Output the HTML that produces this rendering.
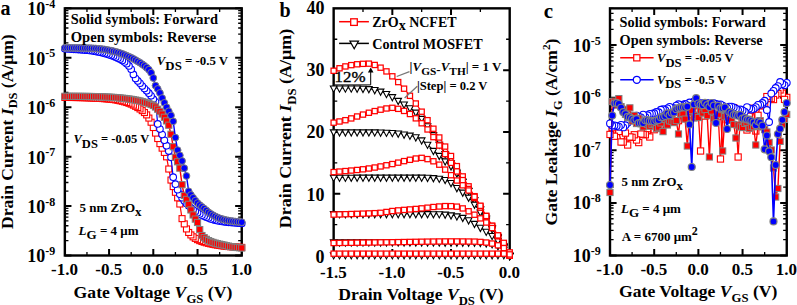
<!DOCTYPE html>
<html><head><meta charset="utf-8"><style>
html,body{margin:0;padding:0;background:#fff;width:797px;height:305px;overflow:hidden;}
svg{display:block;font-family:"Liberation Serif", serif;}
</style></head><body>
<svg width="797" height="305" viewBox="0 0 797 305" font-family='"Liberation Serif", serif'>
<rect width="797" height="305" fill="#fff"/>
<rect x="64.85" y="8.35" width="176.9" height="247.15" fill="none" stroke="#000" stroke-width="2.4"/>
<rect x="333.65" y="8.35" width="176.05" height="247.15" fill="none" stroke="#000" stroke-width="2.4"/>
<rect x="610" y="8.35" width="176.75" height="247.15" fill="none" stroke="#000" stroke-width="2.4"/>
<path d="M109.07 255.5v-6.6M109.07 8.35v6.6M153.3 255.5v-6.6M153.3 8.35v6.6M197.53 255.5v-6.6M197.53 8.35v6.6" stroke="#000" stroke-width="2"/>
<path d="M86.96 255.5v-3.6M86.96 8.35v3.6M131.19 255.5v-3.6M131.19 8.35v3.6M175.41 255.5v-3.6M175.41 8.35v3.6M219.64 255.5v-3.6M219.64 8.35v3.6" stroke="#000" stroke-width="1.3"/>
<path d="M64.85 255.5h6.6M241.75 255.5h-6.6M64.85 206.07h6.6M241.75 206.07h-6.6M64.85 156.64h6.6M241.75 156.64h-6.6M64.85 107.21h6.6M241.75 107.21h-6.6M64.85 57.78h6.6M241.75 57.78h-6.6M64.85 8.35h6.6M241.75 8.35h-6.6" stroke="#000" stroke-width="2"/>
<path d="M64.85 240.62h3.6M241.75 240.62h-3.6M64.85 231.92h3.6M241.75 231.92h-3.6M64.85 225.74h3.6M241.75 225.74h-3.6M64.85 220.95h3.6M241.75 220.95h-3.6M64.85 217.04h3.6M241.75 217.04h-3.6M64.85 213.73h3.6M241.75 213.73h-3.6M64.85 210.86h3.6M241.75 210.86h-3.6M64.85 208.33h3.6M241.75 208.33h-3.6M64.85 191.19h3.6M241.75 191.19h-3.6M64.85 182.49h3.6M241.75 182.49h-3.6M64.85 176.31h3.6M241.75 176.31h-3.6M64.85 171.52h3.6M241.75 171.52h-3.6M64.85 167.61h3.6M241.75 167.61h-3.6M64.85 164.3h3.6M241.75 164.3h-3.6M64.85 161.43h3.6M241.75 161.43h-3.6M64.85 158.9h3.6M241.75 158.9h-3.6M64.85 141.76h3.6M241.75 141.76h-3.6M64.85 133.06h3.6M241.75 133.06h-3.6M64.85 126.88h3.6M241.75 126.88h-3.6M64.85 122.09h3.6M241.75 122.09h-3.6M64.85 118.18h3.6M241.75 118.18h-3.6M64.85 114.87h3.6M241.75 114.87h-3.6M64.85 112h3.6M241.75 112h-3.6M64.85 109.47h3.6M241.75 109.47h-3.6M64.85 92.33h3.6M241.75 92.33h-3.6M64.85 83.63h3.6M241.75 83.63h-3.6M64.85 77.45h3.6M241.75 77.45h-3.6M64.85 72.66h3.6M241.75 72.66h-3.6M64.85 68.75h3.6M241.75 68.75h-3.6M64.85 65.44h3.6M241.75 65.44h-3.6M64.85 62.57h3.6M241.75 62.57h-3.6M64.85 60.04h3.6M241.75 60.04h-3.6M64.85 42.9h3.6M241.75 42.9h-3.6M64.85 34.2h3.6M241.75 34.2h-3.6M64.85 28.02h3.6M241.75 28.02h-3.6M64.85 23.23h3.6M241.75 23.23h-3.6M64.85 19.32h3.6M241.75 19.32h-3.6M64.85 16.01h3.6M241.75 16.01h-3.6M64.85 13.14h3.6M241.75 13.14h-3.6M64.85 10.61h3.6M241.75 10.61h-3.6" stroke="#000" stroke-width="1.3"/>
<path d="M392.33 255.5v-6.6M392.33 8.35v6.6M451.02 255.5v-6.6M451.02 8.35v6.6" stroke="#000" stroke-width="2"/>
<path d="M362.99 255.5v-3.6M362.99 8.35v3.6M421.67 255.5v-3.6M421.67 8.35v3.6M480.36 255.5v-3.6M480.36 8.35v3.6" stroke="#000" stroke-width="1.3"/>
<path d="M333.65 193.71h6.6M509.7 193.71h-6.6M333.65 131.93h6.6M509.7 131.93h-6.6M333.65 70.14h6.6M509.7 70.14h-6.6" stroke="#000" stroke-width="2"/>
<path d="M333.65 224.61h3.6M509.7 224.61h-3.6M333.65 162.82h3.6M509.7 162.82h-3.6M333.65 101.03h3.6M509.7 101.03h-3.6M333.65 39.24h3.6M509.7 39.24h-3.6" stroke="#000" stroke-width="1.3"/>
<path d="M654.19 255.5v-6.6M654.19 8.35v6.6M698.38 255.5v-6.6M698.38 8.35v6.6M742.56 255.5v-6.6M742.56 8.35v6.6" stroke="#000" stroke-width="2"/>
<path d="M632.09 255.5v-3.6M632.09 8.35v3.6M676.28 255.5v-3.6M676.28 8.35v3.6M720.47 255.5v-3.6M720.47 8.35v3.6M764.66 255.5v-3.6M764.66 8.35v3.6" stroke="#000" stroke-width="1.3"/>
<path d="M610 255.5h6.6M786.75 255.5h-6.6M610 202.9h6.6M786.75 202.9h-6.6M610 150.31h6.6M786.75 150.31h-6.6M610 97.71h6.6M786.75 97.71h-6.6M610 45.11h6.6M786.75 45.11h-6.6" stroke="#000" stroke-width="2"/>
<path d="M610 239.67h3.6M786.75 239.67h-3.6M610 230.41h3.6M786.75 230.41h-3.6M610 223.83h3.6M786.75 223.83h-3.6M610 218.74h3.6M786.75 218.74h-3.6M610 214.57h3.6M786.75 214.57h-3.6M610 211.05h3.6M786.75 211.05h-3.6M610 208h3.6M786.75 208h-3.6M610 205.31h3.6M786.75 205.31h-3.6M610 187.07h3.6M786.75 187.07h-3.6M610 177.81h3.6M786.75 177.81h-3.6M610 171.24h3.6M786.75 171.24h-3.6M610 166.14h3.6M786.75 166.14h-3.6M610 161.98h3.6M786.75 161.98h-3.6M610 158.45h3.6M786.75 158.45h-3.6M610 155.4h3.6M786.75 155.4h-3.6M610 152.71h3.6M786.75 152.71h-3.6M610 134.47h3.6M786.75 134.47h-3.6M610 125.21h3.6M786.75 125.21h-3.6M610 118.64h3.6M786.75 118.64h-3.6M610 113.54h3.6M786.75 113.54h-3.6M610 109.38h3.6M786.75 109.38h-3.6M610 105.86h3.6M786.75 105.86h-3.6M610 102.81h3.6M786.75 102.81h-3.6M610 100.12h3.6M786.75 100.12h-3.6M610 81.88h3.6M786.75 81.88h-3.6M610 72.62h3.6M786.75 72.62h-3.6M610 66.04h3.6M786.75 66.04h-3.6M610 60.95h3.6M786.75 60.95h-3.6M610 56.78h3.6M786.75 56.78h-3.6M610 53.26h3.6M786.75 53.26h-3.6M610 50.21h3.6M786.75 50.21h-3.6M610 47.52h3.6M786.75 47.52h-3.6M610 29.28h3.6M786.75 29.28h-3.6M610 20.02h3.6M786.75 20.02h-3.6M610 13.45h3.6M786.75 13.45h-3.6M610 8.35h3.6M786.75 8.35h-3.6" stroke="#000" stroke-width="1.3"/>
<g>
<polyline points="64.85,97.4 67.06,97.43 69.27,97.45 71.48,97.48 73.69,97.5 75.91,97.53 78.12,97.56 80.33,97.6 82.54,97.65 84.75,97.71 86.96,97.78 89.17,97.87 91.38,97.96 93.6,98.06 95.81,98.17 98.02,98.29 100.23,98.41 102.44,98.55 104.65,98.7 106.86,98.87 109.07,99.06 111.29,99.28 113.5,99.54 115.71,99.87 117.92,100.29 120.13,100.77 122.34,101.28 124.55,101.86 126.76,102.52 128.98,103.27 131.19,104.13 133.4,105.14 135.61,106.29 137.82,107.56 140.03,108.99 142.24,110.63 144.45,112.54 146.67,114.89 148.88,118.07 151.09,122.21 153.3,127.52 155.51,133.07 157.72,138.53 159.93,143.61 162.14,148.15 164.36,152.42 166.57,156.84 168.78,169.02 170.99,180.05 173.2,186.56 175.41,192.28 177.62,197.8 179.84,204 182.05,218.63 184.26,223.9 186.47,228.93 188.68,232.48 190.89,234.93 193.1,236.84 195.31,238.37 197.53,239.63 199.74,240.65 201.95,241.48 204.16,242.18 206.37,242.79 208.58,243.34 210.79,243.86 213,244.33 215.22,244.76 217.43,245.14 219.64,245.48 221.85,245.8 224.06,246.08 226.27,246.33 228.48,246.54 230.69,246.72 232.91,246.87 235.12,247 237.33,247.13 239.54,247.26 241.75,247.4" fill="none" stroke="#ff0000" stroke-width="1.2" stroke-linejoin="round"/>
<rect x="238.75" y="244.4" width="6" height="6" fill="#fff" stroke="#ff0000" stroke-width="1.1"/>
<rect x="236.54" y="244.26" width="6" height="6" fill="#fff" stroke="#ff0000" stroke-width="1.1"/>
<rect x="234.33" y="244.13" width="6" height="6" fill="#fff" stroke="#ff0000" stroke-width="1.1"/>
<rect x="232.12" y="244" width="6" height="6" fill="#fff" stroke="#ff0000" stroke-width="1.1"/>
<rect x="229.91" y="243.87" width="6" height="6" fill="#fff" stroke="#ff0000" stroke-width="1.1"/>
<rect x="227.69" y="243.72" width="6" height="6" fill="#fff" stroke="#ff0000" stroke-width="1.1"/>
<rect x="225.48" y="243.54" width="6" height="6" fill="#fff" stroke="#ff0000" stroke-width="1.1"/>
<rect x="223.27" y="243.33" width="6" height="6" fill="#fff" stroke="#ff0000" stroke-width="1.1"/>
<rect x="221.06" y="243.08" width="6" height="6" fill="#fff" stroke="#ff0000" stroke-width="1.1"/>
<rect x="218.85" y="242.8" width="6" height="6" fill="#fff" stroke="#ff0000" stroke-width="1.1"/>
<rect x="216.64" y="242.48" width="6" height="6" fill="#fff" stroke="#ff0000" stroke-width="1.1"/>
<rect x="214.43" y="242.14" width="6" height="6" fill="#fff" stroke="#ff0000" stroke-width="1.1"/>
<rect x="212.22" y="241.76" width="6" height="6" fill="#fff" stroke="#ff0000" stroke-width="1.1"/>
<rect x="210" y="241.33" width="6" height="6" fill="#fff" stroke="#ff0000" stroke-width="1.1"/>
<rect x="207.79" y="240.86" width="6" height="6" fill="#fff" stroke="#ff0000" stroke-width="1.1"/>
<rect x="205.58" y="240.34" width="6" height="6" fill="#fff" stroke="#ff0000" stroke-width="1.1"/>
<rect x="203.37" y="239.79" width="6" height="6" fill="#fff" stroke="#ff0000" stroke-width="1.1"/>
<rect x="201.16" y="239.18" width="6" height="6" fill="#fff" stroke="#ff0000" stroke-width="1.1"/>
<rect x="198.95" y="238.48" width="6" height="6" fill="#fff" stroke="#ff0000" stroke-width="1.1"/>
<rect x="196.74" y="237.65" width="6" height="6" fill="#fff" stroke="#ff0000" stroke-width="1.1"/>
<rect x="194.53" y="236.63" width="6" height="6" fill="#fff" stroke="#ff0000" stroke-width="1.1"/>
<rect x="192.31" y="235.37" width="6" height="6" fill="#fff" stroke="#ff0000" stroke-width="1.1"/>
<rect x="190.1" y="233.84" width="6" height="6" fill="#fff" stroke="#ff0000" stroke-width="1.1"/>
<rect x="187.89" y="231.93" width="6" height="6" fill="#fff" stroke="#ff0000" stroke-width="1.1"/>
<rect x="185.68" y="229.48" width="6" height="6" fill="#fff" stroke="#ff0000" stroke-width="1.1"/>
<rect x="183.47" y="225.93" width="6" height="6" fill="#fff" stroke="#ff0000" stroke-width="1.1"/>
<rect x="181.26" y="220.9" width="6" height="6" fill="#fff" stroke="#ff0000" stroke-width="1.1"/>
<rect x="179.05" y="215.63" width="6" height="6" fill="#fff" stroke="#ff0000" stroke-width="1.1"/>
<rect x="176.84" y="201" width="6" height="6" fill="#fff" stroke="#ff0000" stroke-width="1.1"/>
<rect x="174.62" y="194.8" width="6" height="6" fill="#fff" stroke="#ff0000" stroke-width="1.1"/>
<rect x="172.41" y="189.28" width="6" height="6" fill="#fff" stroke="#ff0000" stroke-width="1.1"/>
<rect x="170.2" y="183.56" width="6" height="6" fill="#fff" stroke="#ff0000" stroke-width="1.1"/>
<rect x="167.99" y="177.05" width="6" height="6" fill="#fff" stroke="#ff0000" stroke-width="1.1"/>
<rect x="165.78" y="166.02" width="6" height="6" fill="#fff" stroke="#ff0000" stroke-width="1.1"/>
<rect x="163.57" y="153.84" width="6" height="6" fill="#fff" stroke="#ff0000" stroke-width="1.1"/>
<rect x="161.36" y="149.42" width="6" height="6" fill="#fff" stroke="#ff0000" stroke-width="1.1"/>
<rect x="159.14" y="145.15" width="6" height="6" fill="#fff" stroke="#ff0000" stroke-width="1.1"/>
<rect x="156.93" y="140.61" width="6" height="6" fill="#fff" stroke="#ff0000" stroke-width="1.1"/>
<rect x="154.72" y="135.53" width="6" height="6" fill="#fff" stroke="#ff0000" stroke-width="1.1"/>
<rect x="152.51" y="130.07" width="6" height="6" fill="#fff" stroke="#ff0000" stroke-width="1.1"/>
<rect x="150.3" y="124.52" width="6" height="6" fill="#fff" stroke="#ff0000" stroke-width="1.1"/>
<rect x="148.09" y="119.21" width="6" height="6" fill="#fff" stroke="#ff0000" stroke-width="1.1"/>
<rect x="145.88" y="115.07" width="6" height="6" fill="#fff" stroke="#ff0000" stroke-width="1.1"/>
<rect x="143.67" y="111.89" width="6" height="6" fill="#fff" stroke="#ff0000" stroke-width="1.1"/>
<rect x="141.45" y="109.54" width="6" height="6" fill="#fff" stroke="#ff0000" stroke-width="1.1"/>
<rect x="139.24" y="107.63" width="6" height="6" fill="#fff" stroke="#ff0000" stroke-width="1.1"/>
<rect x="137.03" y="105.99" width="6" height="6" fill="#fff" stroke="#ff0000" stroke-width="1.1"/>
<rect x="134.82" y="104.56" width="6" height="6" fill="#fff" stroke="#ff0000" stroke-width="1.1"/>
<rect x="132.61" y="103.29" width="6" height="6" fill="#fff" stroke="#ff0000" stroke-width="1.1"/>
<rect x="130.4" y="102.14" width="6" height="6" fill="#fff" stroke="#ff0000" stroke-width="1.1"/>
<rect x="128.19" y="101.13" width="6" height="6" fill="#fff" stroke="#ff0000" stroke-width="1.1"/>
<rect x="125.98" y="100.27" width="6" height="6" fill="#fff" stroke="#ff0000" stroke-width="1.1"/>
<rect x="123.76" y="99.52" width="6" height="6" fill="#fff" stroke="#ff0000" stroke-width="1.1"/>
<rect x="121.55" y="98.86" width="6" height="6" fill="#fff" stroke="#ff0000" stroke-width="1.1"/>
<rect x="119.34" y="98.28" width="6" height="6" fill="#fff" stroke="#ff0000" stroke-width="1.1"/>
<rect x="117.13" y="97.77" width="6" height="6" fill="#fff" stroke="#ff0000" stroke-width="1.1"/>
<rect x="114.92" y="97.29" width="6" height="6" fill="#fff" stroke="#ff0000" stroke-width="1.1"/>
<rect x="112.71" y="96.87" width="6" height="6" fill="#fff" stroke="#ff0000" stroke-width="1.1"/>
<rect x="110.5" y="96.54" width="6" height="6" fill="#fff" stroke="#ff0000" stroke-width="1.1"/>
<rect x="108.29" y="96.28" width="6" height="6" fill="#fff" stroke="#ff0000" stroke-width="1.1"/>
<rect x="106.07" y="96.06" width="6" height="6" fill="#fff" stroke="#ff0000" stroke-width="1.1"/>
<rect x="103.86" y="95.87" width="6" height="6" fill="#fff" stroke="#ff0000" stroke-width="1.1"/>
<rect x="101.65" y="95.7" width="6" height="6" fill="#fff" stroke="#ff0000" stroke-width="1.1"/>
<rect x="99.44" y="95.55" width="6" height="6" fill="#fff" stroke="#ff0000" stroke-width="1.1"/>
<rect x="97.23" y="95.41" width="6" height="6" fill="#fff" stroke="#ff0000" stroke-width="1.1"/>
<rect x="95.02" y="95.29" width="6" height="6" fill="#fff" stroke="#ff0000" stroke-width="1.1"/>
<rect x="92.81" y="95.17" width="6" height="6" fill="#fff" stroke="#ff0000" stroke-width="1.1"/>
<rect x="90.6" y="95.06" width="6" height="6" fill="#fff" stroke="#ff0000" stroke-width="1.1"/>
<rect x="88.38" y="94.96" width="6" height="6" fill="#fff" stroke="#ff0000" stroke-width="1.1"/>
<rect x="86.17" y="94.87" width="6" height="6" fill="#fff" stroke="#ff0000" stroke-width="1.1"/>
<rect x="83.96" y="94.78" width="6" height="6" fill="#fff" stroke="#ff0000" stroke-width="1.1"/>
<rect x="81.75" y="94.71" width="6" height="6" fill="#fff" stroke="#ff0000" stroke-width="1.1"/>
<rect x="79.54" y="94.65" width="6" height="6" fill="#fff" stroke="#ff0000" stroke-width="1.1"/>
<rect x="77.33" y="94.6" width="6" height="6" fill="#fff" stroke="#ff0000" stroke-width="1.1"/>
<rect x="75.12" y="94.56" width="6" height="6" fill="#fff" stroke="#ff0000" stroke-width="1.1"/>
<rect x="72.91" y="94.53" width="6" height="6" fill="#fff" stroke="#ff0000" stroke-width="1.1"/>
<rect x="70.69" y="94.5" width="6" height="6" fill="#fff" stroke="#ff0000" stroke-width="1.1"/>
<rect x="68.48" y="94.48" width="6" height="6" fill="#fff" stroke="#ff0000" stroke-width="1.1"/>
<rect x="66.27" y="94.45" width="6" height="6" fill="#fff" stroke="#ff0000" stroke-width="1.1"/>
<rect x="64.06" y="94.43" width="6" height="6" fill="#fff" stroke="#ff0000" stroke-width="1.1"/>
<rect x="61.85" y="94.4" width="6" height="6" fill="#fff" stroke="#ff0000" stroke-width="1.1"/>
<polyline points="64.85,48.7 67.06,48.86 69.27,49.01 71.48,49.15 73.69,49.29 75.91,49.43 78.12,49.57 80.33,49.73 82.54,49.89 84.75,50.07 86.96,50.27 89.17,50.49 91.38,50.74 93.6,51.07 95.81,51.46 98.02,51.89 100.23,52.35 102.44,52.85 104.65,53.41 106.86,54.03 109.07,54.7 111.29,55.44 113.5,56.26 115.71,57.17 117.92,58.18 120.13,59.27 122.34,60.48 124.55,61.9 126.76,63.65 128.98,65.94 131.19,69.26 133.4,74.4 135.61,78.59 137.82,80.92 140.03,83.27 142.24,86.06 144.45,88.55 146.67,90.78 148.88,93.17 151.09,95.79 153.3,99.13 155.51,101.84 157.72,123.91 159.93,129.12 162.14,134.58 164.36,140.23 166.57,145.67 168.78,151.07 170.99,157.28 173.2,177.22 175.41,184.19 177.62,189.77 179.84,194.2 182.05,197.68 184.26,200.67 186.47,203.4 188.68,205.79 190.89,207.93 193.1,209.82 195.31,211.41 197.53,212.77 199.74,214 201.95,215.17 204.16,216.27 206.37,217.25 208.58,218.11 210.79,218.9 213,219.6 215.22,220.17 217.43,220.66 219.64,221.08 221.85,221.46 224.06,221.78 226.27,222.05 228.48,222.28 230.69,222.49 232.91,222.68 235.12,222.86 237.33,223.03 239.54,223.21 241.75,223.4" fill="none" stroke="#0000ff" stroke-width="1.2" stroke-linejoin="round"/>
<circle cx="241.75" cy="223.4" r="3.3" fill="#fff" stroke="#0000ff" stroke-width="1.1"/>
<circle cx="239.54" cy="223.21" r="3.3" fill="#fff" stroke="#0000ff" stroke-width="1.1"/>
<circle cx="237.33" cy="223.03" r="3.3" fill="#fff" stroke="#0000ff" stroke-width="1.1"/>
<circle cx="235.12" cy="222.86" r="3.3" fill="#fff" stroke="#0000ff" stroke-width="1.1"/>
<circle cx="232.91" cy="222.68" r="3.3" fill="#fff" stroke="#0000ff" stroke-width="1.1"/>
<circle cx="230.69" cy="222.49" r="3.3" fill="#fff" stroke="#0000ff" stroke-width="1.1"/>
<circle cx="228.48" cy="222.28" r="3.3" fill="#fff" stroke="#0000ff" stroke-width="1.1"/>
<circle cx="226.27" cy="222.05" r="3.3" fill="#fff" stroke="#0000ff" stroke-width="1.1"/>
<circle cx="224.06" cy="221.78" r="3.3" fill="#fff" stroke="#0000ff" stroke-width="1.1"/>
<circle cx="221.85" cy="221.46" r="3.3" fill="#fff" stroke="#0000ff" stroke-width="1.1"/>
<circle cx="219.64" cy="221.08" r="3.3" fill="#fff" stroke="#0000ff" stroke-width="1.1"/>
<circle cx="217.43" cy="220.66" r="3.3" fill="#fff" stroke="#0000ff" stroke-width="1.1"/>
<circle cx="215.22" cy="220.17" r="3.3" fill="#fff" stroke="#0000ff" stroke-width="1.1"/>
<circle cx="213" cy="219.6" r="3.3" fill="#fff" stroke="#0000ff" stroke-width="1.1"/>
<circle cx="210.79" cy="218.9" r="3.3" fill="#fff" stroke="#0000ff" stroke-width="1.1"/>
<circle cx="208.58" cy="218.11" r="3.3" fill="#fff" stroke="#0000ff" stroke-width="1.1"/>
<circle cx="206.37" cy="217.25" r="3.3" fill="#fff" stroke="#0000ff" stroke-width="1.1"/>
<circle cx="204.16" cy="216.27" r="3.3" fill="#fff" stroke="#0000ff" stroke-width="1.1"/>
<circle cx="201.95" cy="215.17" r="3.3" fill="#fff" stroke="#0000ff" stroke-width="1.1"/>
<circle cx="199.74" cy="214" r="3.3" fill="#fff" stroke="#0000ff" stroke-width="1.1"/>
<circle cx="197.53" cy="212.77" r="3.3" fill="#fff" stroke="#0000ff" stroke-width="1.1"/>
<circle cx="195.31" cy="211.41" r="3.3" fill="#fff" stroke="#0000ff" stroke-width="1.1"/>
<circle cx="193.1" cy="209.82" r="3.3" fill="#fff" stroke="#0000ff" stroke-width="1.1"/>
<circle cx="190.89" cy="207.93" r="3.3" fill="#fff" stroke="#0000ff" stroke-width="1.1"/>
<circle cx="188.68" cy="205.79" r="3.3" fill="#fff" stroke="#0000ff" stroke-width="1.1"/>
<circle cx="186.47" cy="203.4" r="3.3" fill="#fff" stroke="#0000ff" stroke-width="1.1"/>
<circle cx="184.26" cy="200.67" r="3.3" fill="#fff" stroke="#0000ff" stroke-width="1.1"/>
<circle cx="182.05" cy="197.68" r="3.3" fill="#fff" stroke="#0000ff" stroke-width="1.1"/>
<circle cx="179.84" cy="194.2" r="3.3" fill="#fff" stroke="#0000ff" stroke-width="1.1"/>
<circle cx="177.62" cy="189.77" r="3.3" fill="#fff" stroke="#0000ff" stroke-width="1.1"/>
<circle cx="175.41" cy="184.19" r="3.3" fill="#fff" stroke="#0000ff" stroke-width="1.1"/>
<circle cx="173.2" cy="177.22" r="3.3" fill="#fff" stroke="#0000ff" stroke-width="1.1"/>
<circle cx="170.99" cy="157.28" r="3.3" fill="#fff" stroke="#0000ff" stroke-width="1.1"/>
<circle cx="168.78" cy="151.07" r="3.3" fill="#fff" stroke="#0000ff" stroke-width="1.1"/>
<circle cx="166.57" cy="145.67" r="3.3" fill="#fff" stroke="#0000ff" stroke-width="1.1"/>
<circle cx="164.36" cy="140.23" r="3.3" fill="#fff" stroke="#0000ff" stroke-width="1.1"/>
<circle cx="162.14" cy="134.58" r="3.3" fill="#fff" stroke="#0000ff" stroke-width="1.1"/>
<circle cx="159.93" cy="129.12" r="3.3" fill="#fff" stroke="#0000ff" stroke-width="1.1"/>
<circle cx="157.72" cy="123.91" r="3.3" fill="#fff" stroke="#0000ff" stroke-width="1.1"/>
<circle cx="155.51" cy="101.84" r="3.3" fill="#fff" stroke="#0000ff" stroke-width="1.1"/>
<circle cx="153.3" cy="99.13" r="3.3" fill="#fff" stroke="#0000ff" stroke-width="1.1"/>
<circle cx="151.09" cy="95.79" r="3.3" fill="#fff" stroke="#0000ff" stroke-width="1.1"/>
<circle cx="148.88" cy="93.17" r="3.3" fill="#fff" stroke="#0000ff" stroke-width="1.1"/>
<circle cx="146.67" cy="90.78" r="3.3" fill="#fff" stroke="#0000ff" stroke-width="1.1"/>
<circle cx="144.45" cy="88.55" r="3.3" fill="#fff" stroke="#0000ff" stroke-width="1.1"/>
<circle cx="142.24" cy="86.06" r="3.3" fill="#fff" stroke="#0000ff" stroke-width="1.1"/>
<circle cx="140.03" cy="83.27" r="3.3" fill="#fff" stroke="#0000ff" stroke-width="1.1"/>
<circle cx="137.82" cy="80.92" r="3.3" fill="#fff" stroke="#0000ff" stroke-width="1.1"/>
<circle cx="135.61" cy="78.59" r="3.3" fill="#fff" stroke="#0000ff" stroke-width="1.1"/>
<circle cx="133.4" cy="74.4" r="3.3" fill="#fff" stroke="#0000ff" stroke-width="1.1"/>
<circle cx="131.19" cy="69.26" r="3.3" fill="#fff" stroke="#0000ff" stroke-width="1.1"/>
<circle cx="128.98" cy="65.94" r="3.3" fill="#fff" stroke="#0000ff" stroke-width="1.1"/>
<circle cx="126.76" cy="63.65" r="3.3" fill="#fff" stroke="#0000ff" stroke-width="1.1"/>
<circle cx="124.55" cy="61.9" r="3.3" fill="#fff" stroke="#0000ff" stroke-width="1.1"/>
<circle cx="122.34" cy="60.48" r="3.3" fill="#fff" stroke="#0000ff" stroke-width="1.1"/>
<circle cx="120.13" cy="59.27" r="3.3" fill="#fff" stroke="#0000ff" stroke-width="1.1"/>
<circle cx="117.92" cy="58.18" r="3.3" fill="#fff" stroke="#0000ff" stroke-width="1.1"/>
<circle cx="115.71" cy="57.17" r="3.3" fill="#fff" stroke="#0000ff" stroke-width="1.1"/>
<circle cx="113.5" cy="56.26" r="3.3" fill="#fff" stroke="#0000ff" stroke-width="1.1"/>
<circle cx="111.29" cy="55.44" r="3.3" fill="#fff" stroke="#0000ff" stroke-width="1.1"/>
<circle cx="109.07" cy="54.7" r="3.3" fill="#fff" stroke="#0000ff" stroke-width="1.1"/>
<circle cx="106.86" cy="54.03" r="3.3" fill="#fff" stroke="#0000ff" stroke-width="1.1"/>
<circle cx="104.65" cy="53.41" r="3.3" fill="#fff" stroke="#0000ff" stroke-width="1.1"/>
<circle cx="102.44" cy="52.85" r="3.3" fill="#fff" stroke="#0000ff" stroke-width="1.1"/>
<circle cx="100.23" cy="52.35" r="3.3" fill="#fff" stroke="#0000ff" stroke-width="1.1"/>
<circle cx="98.02" cy="51.89" r="3.3" fill="#fff" stroke="#0000ff" stroke-width="1.1"/>
<circle cx="95.81" cy="51.46" r="3.3" fill="#fff" stroke="#0000ff" stroke-width="1.1"/>
<circle cx="93.6" cy="51.07" r="3.3" fill="#fff" stroke="#0000ff" stroke-width="1.1"/>
<circle cx="91.38" cy="50.74" r="3.3" fill="#fff" stroke="#0000ff" stroke-width="1.1"/>
<circle cx="89.17" cy="50.49" r="3.3" fill="#fff" stroke="#0000ff" stroke-width="1.1"/>
<circle cx="86.96" cy="50.27" r="3.3" fill="#fff" stroke="#0000ff" stroke-width="1.1"/>
<circle cx="84.75" cy="50.07" r="3.3" fill="#fff" stroke="#0000ff" stroke-width="1.1"/>
<circle cx="82.54" cy="49.89" r="3.3" fill="#fff" stroke="#0000ff" stroke-width="1.1"/>
<circle cx="80.33" cy="49.73" r="3.3" fill="#fff" stroke="#0000ff" stroke-width="1.1"/>
<circle cx="78.12" cy="49.57" r="3.3" fill="#fff" stroke="#0000ff" stroke-width="1.1"/>
<circle cx="75.91" cy="49.43" r="3.3" fill="#fff" stroke="#0000ff" stroke-width="1.1"/>
<circle cx="73.69" cy="49.29" r="3.3" fill="#fff" stroke="#0000ff" stroke-width="1.1"/>
<circle cx="71.48" cy="49.15" r="3.3" fill="#fff" stroke="#0000ff" stroke-width="1.1"/>
<circle cx="69.27" cy="49.01" r="3.3" fill="#fff" stroke="#0000ff" stroke-width="1.1"/>
<circle cx="67.06" cy="48.86" r="3.3" fill="#fff" stroke="#0000ff" stroke-width="1.1"/>
<circle cx="64.85" cy="48.7" r="3.3" fill="#fff" stroke="#0000ff" stroke-width="1.1"/>
<polyline points="64.85,96.3 67.06,96.32 69.27,96.33 71.48,96.35 73.69,96.36 75.91,96.37 78.12,96.39 80.33,96.4 82.54,96.42 84.75,96.44 86.96,96.46 89.17,96.49 91.38,96.52 93.6,96.57 95.81,96.62 98.02,96.69 100.23,96.77 102.44,96.86 104.65,96.95 106.86,97.06 109.07,97.17 111.29,97.29 113.5,97.42 115.71,97.57 117.92,97.75 120.13,97.96 122.34,98.2 124.55,98.45 126.76,98.71 128.98,99.01 131.19,99.33 133.4,99.69 135.61,100.08 137.82,100.5 140.03,100.99 142.24,101.56 144.45,102.19 146.67,102.89 148.88,103.63 151.09,104.46 153.3,105.49 155.51,107 157.72,109.22 159.93,111.46 162.14,114.04 164.36,117.3 166.57,120.89 168.78,125.21 170.99,134.29 173.2,146.72 175.41,157.25 177.62,161.76 179.84,168.14 182.05,184.71 184.26,195.49 186.47,199.41 188.68,204.32 190.89,209.95 193.1,214.96 195.31,219.11 197.53,222.47 199.74,229.6 201.95,235.54 204.16,237.64 206.37,239.31 208.58,240.6 210.79,241.58 213,242.4 215.22,243.08 217.43,243.67 219.64,244.16 221.85,244.61 224.06,245.08 226.27,245.59 228.48,246.11 230.69,246.57 232.91,246.94 235.12,247.23 237.33,247.49 239.54,247.74 241.75,248" fill="none" stroke="#ff0000" stroke-width="1.4" stroke-linejoin="round"/>
<rect x="61.75" y="93.2" width="6.2" height="6.2" fill="#ff0000" stroke="#808080" stroke-width="1"/>
<rect x="63.96" y="93.22" width="6.2" height="6.2" fill="#ff0000" stroke="#808080" stroke-width="1"/>
<rect x="66.17" y="93.23" width="6.2" height="6.2" fill="#ff0000" stroke="#808080" stroke-width="1"/>
<rect x="68.38" y="93.25" width="6.2" height="6.2" fill="#ff0000" stroke="#808080" stroke-width="1"/>
<rect x="70.59" y="93.26" width="6.2" height="6.2" fill="#ff0000" stroke="#808080" stroke-width="1"/>
<rect x="72.81" y="93.27" width="6.2" height="6.2" fill="#ff0000" stroke="#808080" stroke-width="1"/>
<rect x="75.02" y="93.29" width="6.2" height="6.2" fill="#ff0000" stroke="#808080" stroke-width="1"/>
<rect x="77.23" y="93.3" width="6.2" height="6.2" fill="#ff0000" stroke="#808080" stroke-width="1"/>
<rect x="79.44" y="93.32" width="6.2" height="6.2" fill="#ff0000" stroke="#808080" stroke-width="1"/>
<rect x="81.65" y="93.34" width="6.2" height="6.2" fill="#ff0000" stroke="#808080" stroke-width="1"/>
<rect x="83.86" y="93.36" width="6.2" height="6.2" fill="#ff0000" stroke="#808080" stroke-width="1"/>
<rect x="86.07" y="93.39" width="6.2" height="6.2" fill="#ff0000" stroke="#808080" stroke-width="1"/>
<rect x="88.28" y="93.42" width="6.2" height="6.2" fill="#ff0000" stroke="#808080" stroke-width="1"/>
<rect x="90.5" y="93.47" width="6.2" height="6.2" fill="#ff0000" stroke="#808080" stroke-width="1"/>
<rect x="92.71" y="93.52" width="6.2" height="6.2" fill="#ff0000" stroke="#808080" stroke-width="1"/>
<rect x="94.92" y="93.59" width="6.2" height="6.2" fill="#ff0000" stroke="#808080" stroke-width="1"/>
<rect x="97.13" y="93.67" width="6.2" height="6.2" fill="#ff0000" stroke="#808080" stroke-width="1"/>
<rect x="99.34" y="93.76" width="6.2" height="6.2" fill="#ff0000" stroke="#808080" stroke-width="1"/>
<rect x="101.55" y="93.85" width="6.2" height="6.2" fill="#ff0000" stroke="#808080" stroke-width="1"/>
<rect x="103.76" y="93.96" width="6.2" height="6.2" fill="#ff0000" stroke="#808080" stroke-width="1"/>
<rect x="105.97" y="94.07" width="6.2" height="6.2" fill="#ff0000" stroke="#808080" stroke-width="1"/>
<rect x="108.19" y="94.19" width="6.2" height="6.2" fill="#ff0000" stroke="#808080" stroke-width="1"/>
<rect x="110.4" y="94.32" width="6.2" height="6.2" fill="#ff0000" stroke="#808080" stroke-width="1"/>
<rect x="112.61" y="94.47" width="6.2" height="6.2" fill="#ff0000" stroke="#808080" stroke-width="1"/>
<rect x="114.82" y="94.65" width="6.2" height="6.2" fill="#ff0000" stroke="#808080" stroke-width="1"/>
<rect x="117.03" y="94.86" width="6.2" height="6.2" fill="#ff0000" stroke="#808080" stroke-width="1"/>
<rect x="119.24" y="95.1" width="6.2" height="6.2" fill="#ff0000" stroke="#808080" stroke-width="1"/>
<rect x="121.45" y="95.35" width="6.2" height="6.2" fill="#ff0000" stroke="#808080" stroke-width="1"/>
<rect x="123.66" y="95.61" width="6.2" height="6.2" fill="#ff0000" stroke="#808080" stroke-width="1"/>
<rect x="125.88" y="95.91" width="6.2" height="6.2" fill="#ff0000" stroke="#808080" stroke-width="1"/>
<rect x="128.09" y="96.23" width="6.2" height="6.2" fill="#ff0000" stroke="#808080" stroke-width="1"/>
<rect x="130.3" y="96.59" width="6.2" height="6.2" fill="#ff0000" stroke="#808080" stroke-width="1"/>
<rect x="132.51" y="96.98" width="6.2" height="6.2" fill="#ff0000" stroke="#808080" stroke-width="1"/>
<rect x="134.72" y="97.4" width="6.2" height="6.2" fill="#ff0000" stroke="#808080" stroke-width="1"/>
<rect x="136.93" y="97.89" width="6.2" height="6.2" fill="#ff0000" stroke="#808080" stroke-width="1"/>
<rect x="139.14" y="98.46" width="6.2" height="6.2" fill="#ff0000" stroke="#808080" stroke-width="1"/>
<rect x="141.35" y="99.09" width="6.2" height="6.2" fill="#ff0000" stroke="#808080" stroke-width="1"/>
<rect x="143.57" y="99.79" width="6.2" height="6.2" fill="#ff0000" stroke="#808080" stroke-width="1"/>
<rect x="145.78" y="100.53" width="6.2" height="6.2" fill="#ff0000" stroke="#808080" stroke-width="1"/>
<rect x="147.99" y="101.36" width="6.2" height="6.2" fill="#ff0000" stroke="#808080" stroke-width="1"/>
<rect x="150.2" y="102.39" width="6.2" height="6.2" fill="#ff0000" stroke="#808080" stroke-width="1"/>
<rect x="152.41" y="103.9" width="6.2" height="6.2" fill="#ff0000" stroke="#808080" stroke-width="1"/>
<rect x="154.62" y="106.12" width="6.2" height="6.2" fill="#ff0000" stroke="#808080" stroke-width="1"/>
<rect x="156.83" y="108.36" width="6.2" height="6.2" fill="#ff0000" stroke="#808080" stroke-width="1"/>
<rect x="159.04" y="110.94" width="6.2" height="6.2" fill="#ff0000" stroke="#808080" stroke-width="1"/>
<rect x="161.26" y="114.2" width="6.2" height="6.2" fill="#ff0000" stroke="#808080" stroke-width="1"/>
<rect x="163.47" y="117.79" width="6.2" height="6.2" fill="#ff0000" stroke="#808080" stroke-width="1"/>
<rect x="165.68" y="122.11" width="6.2" height="6.2" fill="#ff0000" stroke="#808080" stroke-width="1"/>
<rect x="167.89" y="131.19" width="6.2" height="6.2" fill="#ff0000" stroke="#808080" stroke-width="1"/>
<rect x="170.1" y="143.62" width="6.2" height="6.2" fill="#ff0000" stroke="#808080" stroke-width="1"/>
<rect x="172.31" y="154.15" width="6.2" height="6.2" fill="#ff0000" stroke="#808080" stroke-width="1"/>
<rect x="174.52" y="158.66" width="6.2" height="6.2" fill="#ff0000" stroke="#808080" stroke-width="1"/>
<rect x="176.74" y="165.04" width="6.2" height="6.2" fill="#ff0000" stroke="#808080" stroke-width="1"/>
<rect x="178.95" y="181.61" width="6.2" height="6.2" fill="#ff0000" stroke="#808080" stroke-width="1"/>
<rect x="181.16" y="192.39" width="6.2" height="6.2" fill="#ff0000" stroke="#808080" stroke-width="1"/>
<rect x="183.37" y="196.31" width="6.2" height="6.2" fill="#ff0000" stroke="#808080" stroke-width="1"/>
<rect x="185.58" y="201.22" width="6.2" height="6.2" fill="#ff0000" stroke="#808080" stroke-width="1"/>
<rect x="187.79" y="206.85" width="6.2" height="6.2" fill="#ff0000" stroke="#808080" stroke-width="1"/>
<rect x="190" y="211.86" width="6.2" height="6.2" fill="#ff0000" stroke="#808080" stroke-width="1"/>
<rect x="192.21" y="216.01" width="6.2" height="6.2" fill="#ff0000" stroke="#808080" stroke-width="1"/>
<rect x="194.43" y="219.37" width="6.2" height="6.2" fill="#ff0000" stroke="#808080" stroke-width="1"/>
<rect x="196.64" y="226.5" width="6.2" height="6.2" fill="#ff0000" stroke="#808080" stroke-width="1"/>
<rect x="198.85" y="232.44" width="6.2" height="6.2" fill="#ff0000" stroke="#808080" stroke-width="1"/>
<rect x="201.06" y="234.54" width="6.2" height="6.2" fill="#ff0000" stroke="#808080" stroke-width="1"/>
<rect x="203.27" y="236.21" width="6.2" height="6.2" fill="#ff0000" stroke="#808080" stroke-width="1"/>
<rect x="205.48" y="237.5" width="6.2" height="6.2" fill="#ff0000" stroke="#808080" stroke-width="1"/>
<rect x="207.69" y="238.48" width="6.2" height="6.2" fill="#ff0000" stroke="#808080" stroke-width="1"/>
<rect x="209.9" y="239.3" width="6.2" height="6.2" fill="#ff0000" stroke="#808080" stroke-width="1"/>
<rect x="212.12" y="239.98" width="6.2" height="6.2" fill="#ff0000" stroke="#808080" stroke-width="1"/>
<rect x="214.33" y="240.57" width="6.2" height="6.2" fill="#ff0000" stroke="#808080" stroke-width="1"/>
<rect x="216.54" y="241.06" width="6.2" height="6.2" fill="#ff0000" stroke="#808080" stroke-width="1"/>
<rect x="218.75" y="241.51" width="6.2" height="6.2" fill="#ff0000" stroke="#808080" stroke-width="1"/>
<rect x="220.96" y="241.98" width="6.2" height="6.2" fill="#ff0000" stroke="#808080" stroke-width="1"/>
<rect x="223.17" y="242.49" width="6.2" height="6.2" fill="#ff0000" stroke="#808080" stroke-width="1"/>
<rect x="225.38" y="243.01" width="6.2" height="6.2" fill="#ff0000" stroke="#808080" stroke-width="1"/>
<rect x="227.59" y="243.47" width="6.2" height="6.2" fill="#ff0000" stroke="#808080" stroke-width="1"/>
<rect x="229.81" y="243.84" width="6.2" height="6.2" fill="#ff0000" stroke="#808080" stroke-width="1"/>
<rect x="232.02" y="244.13" width="6.2" height="6.2" fill="#ff0000" stroke="#808080" stroke-width="1"/>
<rect x="234.23" y="244.39" width="6.2" height="6.2" fill="#ff0000" stroke="#808080" stroke-width="1"/>
<rect x="236.44" y="244.64" width="6.2" height="6.2" fill="#ff0000" stroke="#808080" stroke-width="1"/>
<rect x="238.65" y="244.9" width="6.2" height="6.2" fill="#ff0000" stroke="#808080" stroke-width="1"/>
<polyline points="64.85,47.8 67.06,47.83 69.27,47.86 71.48,47.89 73.69,47.92 75.91,47.94 78.12,47.97 80.33,48 82.54,48.03 84.75,48.08 86.96,48.12 89.17,48.18 91.38,48.25 93.6,48.37 95.81,48.52 98.02,48.71 100.23,48.92 102.44,49.18 104.65,49.5 106.86,49.87 109.07,50.29 111.29,50.76 113.5,51.26 115.71,51.8 117.92,52.39 120.13,53.09 122.34,53.9 124.55,54.79 126.76,55.73 128.98,56.72 131.19,57.75 133.4,58.88 135.61,60.1 137.82,61.39 140.03,62.76 142.24,64.24 144.45,65.87 146.67,67.63 148.88,69.74 151.09,72.77 153.3,77.99 155.51,85.61 157.72,88.95 159.93,92.97 162.14,98.06 164.36,102.89 166.57,107.27 168.78,111.29 170.99,115.43 173.2,121.33 175.41,137.59 177.62,150.12 179.84,155.31 182.05,161 184.26,168.16 186.47,175.94 188.68,191.31 190.89,194.97 193.1,197.83 195.31,200.7 197.53,203.04 199.74,205.05 201.95,206.88 204.16,208.61 206.37,210.47 208.58,212.29 210.79,213.82 213,215.18 215.22,216.36 217.43,217.4 219.64,218.28 221.85,218.98 224.06,219.59 226.27,220.11 228.48,220.55 230.69,220.93 232.91,221.26 235.12,221.53 237.33,221.77 239.54,221.98 241.75,222.2" fill="none" stroke="#0000ff" stroke-width="1.4" stroke-linejoin="round"/>
<circle cx="64.85" cy="47.8" r="3.4" fill="#0000ff" stroke="#808080" stroke-width="1"/>
<circle cx="67.06" cy="47.83" r="3.4" fill="#0000ff" stroke="#808080" stroke-width="1"/>
<circle cx="69.27" cy="47.86" r="3.4" fill="#0000ff" stroke="#808080" stroke-width="1"/>
<circle cx="71.48" cy="47.89" r="3.4" fill="#0000ff" stroke="#808080" stroke-width="1"/>
<circle cx="73.69" cy="47.92" r="3.4" fill="#0000ff" stroke="#808080" stroke-width="1"/>
<circle cx="75.91" cy="47.94" r="3.4" fill="#0000ff" stroke="#808080" stroke-width="1"/>
<circle cx="78.12" cy="47.97" r="3.4" fill="#0000ff" stroke="#808080" stroke-width="1"/>
<circle cx="80.33" cy="48" r="3.4" fill="#0000ff" stroke="#808080" stroke-width="1"/>
<circle cx="82.54" cy="48.03" r="3.4" fill="#0000ff" stroke="#808080" stroke-width="1"/>
<circle cx="84.75" cy="48.08" r="3.4" fill="#0000ff" stroke="#808080" stroke-width="1"/>
<circle cx="86.96" cy="48.12" r="3.4" fill="#0000ff" stroke="#808080" stroke-width="1"/>
<circle cx="89.17" cy="48.18" r="3.4" fill="#0000ff" stroke="#808080" stroke-width="1"/>
<circle cx="91.38" cy="48.25" r="3.4" fill="#0000ff" stroke="#808080" stroke-width="1"/>
<circle cx="93.6" cy="48.37" r="3.4" fill="#0000ff" stroke="#808080" stroke-width="1"/>
<circle cx="95.81" cy="48.52" r="3.4" fill="#0000ff" stroke="#808080" stroke-width="1"/>
<circle cx="98.02" cy="48.71" r="3.4" fill="#0000ff" stroke="#808080" stroke-width="1"/>
<circle cx="100.23" cy="48.92" r="3.4" fill="#0000ff" stroke="#808080" stroke-width="1"/>
<circle cx="102.44" cy="49.18" r="3.4" fill="#0000ff" stroke="#808080" stroke-width="1"/>
<circle cx="104.65" cy="49.5" r="3.4" fill="#0000ff" stroke="#808080" stroke-width="1"/>
<circle cx="106.86" cy="49.87" r="3.4" fill="#0000ff" stroke="#808080" stroke-width="1"/>
<circle cx="109.07" cy="50.29" r="3.4" fill="#0000ff" stroke="#808080" stroke-width="1"/>
<circle cx="111.29" cy="50.76" r="3.4" fill="#0000ff" stroke="#808080" stroke-width="1"/>
<circle cx="113.5" cy="51.26" r="3.4" fill="#0000ff" stroke="#808080" stroke-width="1"/>
<circle cx="115.71" cy="51.8" r="3.4" fill="#0000ff" stroke="#808080" stroke-width="1"/>
<circle cx="117.92" cy="52.39" r="3.4" fill="#0000ff" stroke="#808080" stroke-width="1"/>
<circle cx="120.13" cy="53.09" r="3.4" fill="#0000ff" stroke="#808080" stroke-width="1"/>
<circle cx="122.34" cy="53.9" r="3.4" fill="#0000ff" stroke="#808080" stroke-width="1"/>
<circle cx="124.55" cy="54.79" r="3.4" fill="#0000ff" stroke="#808080" stroke-width="1"/>
<circle cx="126.76" cy="55.73" r="3.4" fill="#0000ff" stroke="#808080" stroke-width="1"/>
<circle cx="128.98" cy="56.72" r="3.4" fill="#0000ff" stroke="#808080" stroke-width="1"/>
<circle cx="131.19" cy="57.75" r="3.4" fill="#0000ff" stroke="#808080" stroke-width="1"/>
<circle cx="133.4" cy="58.88" r="3.4" fill="#0000ff" stroke="#808080" stroke-width="1"/>
<circle cx="135.61" cy="60.1" r="3.4" fill="#0000ff" stroke="#808080" stroke-width="1"/>
<circle cx="137.82" cy="61.39" r="3.4" fill="#0000ff" stroke="#808080" stroke-width="1"/>
<circle cx="140.03" cy="62.76" r="3.4" fill="#0000ff" stroke="#808080" stroke-width="1"/>
<circle cx="142.24" cy="64.24" r="3.4" fill="#0000ff" stroke="#808080" stroke-width="1"/>
<circle cx="144.45" cy="65.87" r="3.4" fill="#0000ff" stroke="#808080" stroke-width="1"/>
<circle cx="146.67" cy="67.63" r="3.4" fill="#0000ff" stroke="#808080" stroke-width="1"/>
<circle cx="148.88" cy="69.74" r="3.4" fill="#0000ff" stroke="#808080" stroke-width="1"/>
<circle cx="151.09" cy="72.77" r="3.4" fill="#0000ff" stroke="#808080" stroke-width="1"/>
<circle cx="153.3" cy="77.99" r="3.4" fill="#0000ff" stroke="#808080" stroke-width="1"/>
<circle cx="155.51" cy="85.61" r="3.4" fill="#0000ff" stroke="#808080" stroke-width="1"/>
<circle cx="157.72" cy="88.95" r="3.4" fill="#0000ff" stroke="#808080" stroke-width="1"/>
<circle cx="159.93" cy="92.97" r="3.4" fill="#0000ff" stroke="#808080" stroke-width="1"/>
<circle cx="162.14" cy="98.06" r="3.4" fill="#0000ff" stroke="#808080" stroke-width="1"/>
<circle cx="164.36" cy="102.89" r="3.4" fill="#0000ff" stroke="#808080" stroke-width="1"/>
<circle cx="166.57" cy="107.27" r="3.4" fill="#0000ff" stroke="#808080" stroke-width="1"/>
<circle cx="168.78" cy="111.29" r="3.4" fill="#0000ff" stroke="#808080" stroke-width="1"/>
<circle cx="170.99" cy="115.43" r="3.4" fill="#0000ff" stroke="#808080" stroke-width="1"/>
<circle cx="173.2" cy="121.33" r="3.4" fill="#0000ff" stroke="#808080" stroke-width="1"/>
<circle cx="175.41" cy="137.59" r="3.4" fill="#0000ff" stroke="#808080" stroke-width="1"/>
<circle cx="177.62" cy="150.12" r="3.4" fill="#0000ff" stroke="#808080" stroke-width="1"/>
<circle cx="179.84" cy="155.31" r="3.4" fill="#0000ff" stroke="#808080" stroke-width="1"/>
<circle cx="182.05" cy="161" r="3.4" fill="#0000ff" stroke="#808080" stroke-width="1"/>
<circle cx="184.26" cy="168.16" r="3.4" fill="#0000ff" stroke="#808080" stroke-width="1"/>
<circle cx="186.47" cy="175.94" r="3.4" fill="#0000ff" stroke="#808080" stroke-width="1"/>
<circle cx="188.68" cy="191.31" r="3.4" fill="#0000ff" stroke="#808080" stroke-width="1"/>
<circle cx="190.89" cy="194.97" r="3.4" fill="#0000ff" stroke="#808080" stroke-width="1"/>
<circle cx="193.1" cy="197.83" r="3.4" fill="#0000ff" stroke="#808080" stroke-width="1"/>
<circle cx="195.31" cy="200.7" r="3.4" fill="#0000ff" stroke="#808080" stroke-width="1"/>
<circle cx="197.53" cy="203.04" r="3.4" fill="#0000ff" stroke="#808080" stroke-width="1"/>
<circle cx="199.74" cy="205.05" r="3.4" fill="#0000ff" stroke="#808080" stroke-width="1"/>
<circle cx="201.95" cy="206.88" r="3.4" fill="#0000ff" stroke="#808080" stroke-width="1"/>
<circle cx="204.16" cy="208.61" r="3.4" fill="#0000ff" stroke="#808080" stroke-width="1"/>
<circle cx="206.37" cy="210.47" r="3.4" fill="#0000ff" stroke="#808080" stroke-width="1"/>
<circle cx="208.58" cy="212.29" r="3.4" fill="#0000ff" stroke="#808080" stroke-width="1"/>
<circle cx="210.79" cy="213.82" r="3.4" fill="#0000ff" stroke="#808080" stroke-width="1"/>
<circle cx="213" cy="215.18" r="3.4" fill="#0000ff" stroke="#808080" stroke-width="1"/>
<circle cx="215.22" cy="216.36" r="3.4" fill="#0000ff" stroke="#808080" stroke-width="1"/>
<circle cx="217.43" cy="217.4" r="3.4" fill="#0000ff" stroke="#808080" stroke-width="1"/>
<circle cx="219.64" cy="218.28" r="3.4" fill="#0000ff" stroke="#808080" stroke-width="1"/>
<circle cx="221.85" cy="218.98" r="3.4" fill="#0000ff" stroke="#808080" stroke-width="1"/>
<circle cx="224.06" cy="219.59" r="3.4" fill="#0000ff" stroke="#808080" stroke-width="1"/>
<circle cx="226.27" cy="220.11" r="3.4" fill="#0000ff" stroke="#808080" stroke-width="1"/>
<circle cx="228.48" cy="220.55" r="3.4" fill="#0000ff" stroke="#808080" stroke-width="1"/>
<circle cx="230.69" cy="220.93" r="3.4" fill="#0000ff" stroke="#808080" stroke-width="1"/>
<circle cx="232.91" cy="221.26" r="3.4" fill="#0000ff" stroke="#808080" stroke-width="1"/>
<circle cx="235.12" cy="221.53" r="3.4" fill="#0000ff" stroke="#808080" stroke-width="1"/>
<circle cx="237.33" cy="221.77" r="3.4" fill="#0000ff" stroke="#808080" stroke-width="1"/>
<circle cx="239.54" cy="221.98" r="3.4" fill="#0000ff" stroke="#808080" stroke-width="1"/>
<circle cx="241.75" cy="222.2" r="3.4" fill="#0000ff" stroke="#808080" stroke-width="1"/>
</g>
<g>
<polyline points="509.7,255.5 503.83,246.23 497.96,236.96 492.1,227.7 486.23,218.43 480.36,209.16 474.49,199.89 468.62,190.62 462.75,181.36 456.88,172.09 451.02,162.82 445.15,153.55 439.28,144.28 433.41,134.7 427.54,125.75 421.67,118.43 415.81,112.15 409.94,107.83 404.07,104.12 398.2,100.41 392.33,96.71 386.46,93.55 380.6,91.15 374.73,89.57 368.86,88.67 362.99,88.35 357.12,88.13 351.25,88.06 345.39,88.06 339.52,88.06 333.65,88.06" fill="none" stroke="#000" stroke-width="1.1" stroke-linejoin="round"/>
<path d="M506.4 253.43L513 253.43L509.7 259.63Z" fill="#fff" stroke="#000" stroke-width="1.1" stroke-linejoin="miter"/>
<path d="M500.53 244.17L507.13 244.17L503.83 250.37Z" fill="#fff" stroke="#000" stroke-width="1.1" stroke-linejoin="miter"/>
<path d="M494.66 234.9L501.26 234.9L497.96 241.1Z" fill="#fff" stroke="#000" stroke-width="1.1" stroke-linejoin="miter"/>
<path d="M488.8 225.63L495.4 225.63L492.1 231.83Z" fill="#fff" stroke="#000" stroke-width="1.1" stroke-linejoin="miter"/>
<path d="M482.93 216.36L489.53 216.36L486.23 222.56Z" fill="#fff" stroke="#000" stroke-width="1.1" stroke-linejoin="miter"/>
<path d="M477.06 207.09L483.66 207.09L480.36 213.29Z" fill="#fff" stroke="#000" stroke-width="1.1" stroke-linejoin="miter"/>
<path d="M471.19 197.82L477.79 197.82L474.49 204.02Z" fill="#fff" stroke="#000" stroke-width="1.1" stroke-linejoin="miter"/>
<path d="M465.32 188.56L471.92 188.56L468.62 194.76Z" fill="#fff" stroke="#000" stroke-width="1.1" stroke-linejoin="miter"/>
<path d="M459.45 179.29L466.05 179.29L462.75 185.49Z" fill="#fff" stroke="#000" stroke-width="1.1" stroke-linejoin="miter"/>
<path d="M453.58 170.02L460.19 170.02L456.88 176.22Z" fill="#fff" stroke="#000" stroke-width="1.1" stroke-linejoin="miter"/>
<path d="M447.72 160.75L454.32 160.75L451.02 166.95Z" fill="#fff" stroke="#000" stroke-width="1.1" stroke-linejoin="miter"/>
<path d="M441.85 151.48L448.45 151.48L445.15 157.68Z" fill="#fff" stroke="#000" stroke-width="1.1" stroke-linejoin="miter"/>
<path d="M435.98 142.22L442.58 142.22L439.28 148.42Z" fill="#fff" stroke="#000" stroke-width="1.1" stroke-linejoin="miter"/>
<path d="M430.11 132.64L436.71 132.64L433.41 138.84Z" fill="#fff" stroke="#000" stroke-width="1.1" stroke-linejoin="miter"/>
<path d="M424.24 123.68L430.84 123.68L427.54 129.88Z" fill="#fff" stroke="#000" stroke-width="1.1" stroke-linejoin="miter"/>
<path d="M418.37 116.37L424.97 116.37L421.67 122.57Z" fill="#fff" stroke="#000" stroke-width="1.1" stroke-linejoin="miter"/>
<path d="M412.51 110.09L419.11 110.09L415.81 116.29Z" fill="#fff" stroke="#000" stroke-width="1.1" stroke-linejoin="miter"/>
<path d="M406.64 105.76L413.24 105.76L409.94 111.96Z" fill="#fff" stroke="#000" stroke-width="1.1" stroke-linejoin="miter"/>
<path d="M400.77 102.05L407.37 102.05L404.07 108.25Z" fill="#fff" stroke="#000" stroke-width="1.1" stroke-linejoin="miter"/>
<path d="M394.9 98.35L401.5 98.35L398.2 104.55Z" fill="#fff" stroke="#000" stroke-width="1.1" stroke-linejoin="miter"/>
<path d="M389.03 94.64L395.63 94.64L392.33 100.84Z" fill="#fff" stroke="#000" stroke-width="1.1" stroke-linejoin="miter"/>
<path d="M383.16 91.48L389.76 91.48L386.46 97.68Z" fill="#fff" stroke="#000" stroke-width="1.1" stroke-linejoin="miter"/>
<path d="M377.3 89.08L383.9 89.08L380.6 95.28Z" fill="#fff" stroke="#000" stroke-width="1.1" stroke-linejoin="miter"/>
<path d="M371.43 87.51L378.03 87.51L374.73 93.71Z" fill="#fff" stroke="#000" stroke-width="1.1" stroke-linejoin="miter"/>
<path d="M365.56 86.61L372.16 86.61L368.86 92.81Z" fill="#fff" stroke="#000" stroke-width="1.1" stroke-linejoin="miter"/>
<path d="M359.69 86.28L366.29 86.28L362.99 92.48Z" fill="#fff" stroke="#000" stroke-width="1.1" stroke-linejoin="miter"/>
<path d="M353.82 86.07L360.42 86.07L357.12 92.27Z" fill="#fff" stroke="#000" stroke-width="1.1" stroke-linejoin="miter"/>
<path d="M347.95 85.99L354.56 85.99L351.25 92.19Z" fill="#fff" stroke="#000" stroke-width="1.1" stroke-linejoin="miter"/>
<path d="M342.09 85.99L348.69 85.99L345.39 92.19Z" fill="#fff" stroke="#000" stroke-width="1.1" stroke-linejoin="miter"/>
<path d="M336.22 85.99L342.82 85.99L339.52 92.19Z" fill="#fff" stroke="#000" stroke-width="1.1" stroke-linejoin="miter"/>
<path d="M330.35 85.99L336.95 85.99L333.65 92.19Z" fill="#fff" stroke="#000" stroke-width="1.1" stroke-linejoin="miter"/>
<polyline points="509.7,255.5 503.83,246.23 497.96,236.96 492.1,227.7 486.23,218.43 480.36,209.16 474.49,199.89 468.62,190.41 462.75,181.36 456.88,173 451.02,165.91 445.15,160.97 439.28,155.4 433.41,150.46 427.54,144.28 421.67,139.96 415.81,136.87 409.94,135.23 404.07,134.09 398.2,133.14 392.33,132.54 386.46,132.29 380.6,132.09 374.73,131.97 368.86,131.93 362.99,131.93 357.12,131.93 351.25,131.93 345.39,131.93 339.52,131.93 333.65,131.93" fill="none" stroke="#000" stroke-width="1.1" stroke-linejoin="round"/>
<path d="M506.4 253.43L513 253.43L509.7 259.63Z" fill="#fff" stroke="#000" stroke-width="1.1" stroke-linejoin="miter"/>
<path d="M500.53 244.17L507.13 244.17L503.83 250.37Z" fill="#fff" stroke="#000" stroke-width="1.1" stroke-linejoin="miter"/>
<path d="M494.66 234.9L501.26 234.9L497.96 241.1Z" fill="#fff" stroke="#000" stroke-width="1.1" stroke-linejoin="miter"/>
<path d="M488.8 225.63L495.4 225.63L492.1 231.83Z" fill="#fff" stroke="#000" stroke-width="1.1" stroke-linejoin="miter"/>
<path d="M482.93 216.36L489.53 216.36L486.23 222.56Z" fill="#fff" stroke="#000" stroke-width="1.1" stroke-linejoin="miter"/>
<path d="M477.06 207.09L483.66 207.09L480.36 213.29Z" fill="#fff" stroke="#000" stroke-width="1.1" stroke-linejoin="miter"/>
<path d="M471.19 197.82L477.79 197.82L474.49 204.02Z" fill="#fff" stroke="#000" stroke-width="1.1" stroke-linejoin="miter"/>
<path d="M465.32 188.35L471.92 188.35L468.62 194.55Z" fill="#fff" stroke="#000" stroke-width="1.1" stroke-linejoin="miter"/>
<path d="M459.45 179.29L466.05 179.29L462.75 185.49Z" fill="#fff" stroke="#000" stroke-width="1.1" stroke-linejoin="miter"/>
<path d="M453.58 170.93L460.19 170.93L456.88 177.13Z" fill="#fff" stroke="#000" stroke-width="1.1" stroke-linejoin="miter"/>
<path d="M447.72 163.84L454.32 163.84L451.02 170.04Z" fill="#fff" stroke="#000" stroke-width="1.1" stroke-linejoin="miter"/>
<path d="M441.85 158.9L448.45 158.9L445.15 165.1Z" fill="#fff" stroke="#000" stroke-width="1.1" stroke-linejoin="miter"/>
<path d="M435.98 153.34L442.58 153.34L439.28 159.54Z" fill="#fff" stroke="#000" stroke-width="1.1" stroke-linejoin="miter"/>
<path d="M430.11 148.39L436.71 148.39L433.41 154.59Z" fill="#fff" stroke="#000" stroke-width="1.1" stroke-linejoin="miter"/>
<path d="M424.24 142.22L430.84 142.22L427.54 148.42Z" fill="#fff" stroke="#000" stroke-width="1.1" stroke-linejoin="miter"/>
<path d="M418.37 137.89L424.97 137.89L421.67 144.09Z" fill="#fff" stroke="#000" stroke-width="1.1" stroke-linejoin="miter"/>
<path d="M412.51 134.8L419.11 134.8L415.81 141Z" fill="#fff" stroke="#000" stroke-width="1.1" stroke-linejoin="miter"/>
<path d="M406.64 133.16L413.24 133.16L409.94 139.36Z" fill="#fff" stroke="#000" stroke-width="1.1" stroke-linejoin="miter"/>
<path d="M400.77 132.02L407.37 132.02L404.07 138.22Z" fill="#fff" stroke="#000" stroke-width="1.1" stroke-linejoin="miter"/>
<path d="M394.9 131.07L401.5 131.07L398.2 137.27Z" fill="#fff" stroke="#000" stroke-width="1.1" stroke-linejoin="miter"/>
<path d="M389.03 130.48L395.63 130.48L392.33 136.68Z" fill="#fff" stroke="#000" stroke-width="1.1" stroke-linejoin="miter"/>
<path d="M383.16 130.22L389.76 130.22L386.46 136.42Z" fill="#fff" stroke="#000" stroke-width="1.1" stroke-linejoin="miter"/>
<path d="M377.3 130.03L383.9 130.03L380.6 136.23Z" fill="#fff" stroke="#000" stroke-width="1.1" stroke-linejoin="miter"/>
<path d="M371.43 129.9L378.03 129.9L374.73 136.1Z" fill="#fff" stroke="#000" stroke-width="1.1" stroke-linejoin="miter"/>
<path d="M365.56 129.86L372.16 129.86L368.86 136.06Z" fill="#fff" stroke="#000" stroke-width="1.1" stroke-linejoin="miter"/>
<path d="M359.69 129.86L366.29 129.86L362.99 136.06Z" fill="#fff" stroke="#000" stroke-width="1.1" stroke-linejoin="miter"/>
<path d="M353.82 129.86L360.42 129.86L357.12 136.06Z" fill="#fff" stroke="#000" stroke-width="1.1" stroke-linejoin="miter"/>
<path d="M347.95 129.86L354.56 129.86L351.25 136.06Z" fill="#fff" stroke="#000" stroke-width="1.1" stroke-linejoin="miter"/>
<path d="M342.09 129.86L348.69 129.86L345.39 136.06Z" fill="#fff" stroke="#000" stroke-width="1.1" stroke-linejoin="miter"/>
<path d="M336.22 129.86L342.82 129.86L339.52 136.06Z" fill="#fff" stroke="#000" stroke-width="1.1" stroke-linejoin="miter"/>
<path d="M330.35 129.86L336.95 129.86L333.65 136.06Z" fill="#fff" stroke="#000" stroke-width="1.1" stroke-linejoin="miter"/>
<polyline points="509.7,255.5 503.83,246.5 497.96,237.58 492.1,228.81 486.23,220.28 480.36,212 474.49,204.22 468.62,197.25 462.75,192.17 456.88,187.58 451.02,182.59 445.15,179.5 439.28,178.27 433.41,177.65 427.54,177.39 421.67,177.22 415.81,177.15 409.94,177.15 404.07,177.16 398.2,177.16 392.33,177.17 386.46,177.18 380.6,177.19 374.73,177.2 368.86,177.21 362.99,177.22 357.12,177.23 351.25,177.25 345.39,177.26 339.52,177.27 333.65,177.28" fill="none" stroke="#000" stroke-width="1.1" stroke-linejoin="round"/>
<path d="M506.4 253.43L513 253.43L509.7 259.63Z" fill="#fff" stroke="#000" stroke-width="1.1" stroke-linejoin="miter"/>
<path d="M500.53 244.43L507.13 244.43L503.83 250.63Z" fill="#fff" stroke="#000" stroke-width="1.1" stroke-linejoin="miter"/>
<path d="M494.66 235.51L501.26 235.51L497.96 241.71Z" fill="#fff" stroke="#000" stroke-width="1.1" stroke-linejoin="miter"/>
<path d="M488.8 226.75L495.4 226.75L492.1 232.95Z" fill="#fff" stroke="#000" stroke-width="1.1" stroke-linejoin="miter"/>
<path d="M482.93 218.21L489.53 218.21L486.23 224.41Z" fill="#fff" stroke="#000" stroke-width="1.1" stroke-linejoin="miter"/>
<path d="M477.06 209.93L483.66 209.93L480.36 216.13Z" fill="#fff" stroke="#000" stroke-width="1.1" stroke-linejoin="miter"/>
<path d="M471.19 202.15L477.79 202.15L474.49 208.35Z" fill="#fff" stroke="#000" stroke-width="1.1" stroke-linejoin="miter"/>
<path d="M465.32 195.18L471.92 195.18L468.62 201.38Z" fill="#fff" stroke="#000" stroke-width="1.1" stroke-linejoin="miter"/>
<path d="M459.45 190.1L466.05 190.1L462.75 196.3Z" fill="#fff" stroke="#000" stroke-width="1.1" stroke-linejoin="miter"/>
<path d="M453.58 185.51L460.19 185.51L456.88 191.71Z" fill="#fff" stroke="#000" stroke-width="1.1" stroke-linejoin="miter"/>
<path d="M447.72 180.52L454.32 180.52L451.02 186.72Z" fill="#fff" stroke="#000" stroke-width="1.1" stroke-linejoin="miter"/>
<path d="M441.85 177.43L448.45 177.43L445.15 183.63Z" fill="#fff" stroke="#000" stroke-width="1.1" stroke-linejoin="miter"/>
<path d="M435.98 176.2L442.58 176.2L439.28 182.4Z" fill="#fff" stroke="#000" stroke-width="1.1" stroke-linejoin="miter"/>
<path d="M430.11 175.58L436.71 175.58L433.41 181.78Z" fill="#fff" stroke="#000" stroke-width="1.1" stroke-linejoin="miter"/>
<path d="M424.24 175.32L430.84 175.32L427.54 181.52Z" fill="#fff" stroke="#000" stroke-width="1.1" stroke-linejoin="miter"/>
<path d="M418.37 175.15L424.97 175.15L421.67 181.35Z" fill="#fff" stroke="#000" stroke-width="1.1" stroke-linejoin="miter"/>
<path d="M412.51 175.09L419.11 175.09L415.81 181.29Z" fill="#fff" stroke="#000" stroke-width="1.1" stroke-linejoin="miter"/>
<path d="M406.64 175.09L413.24 175.09L409.94 181.29Z" fill="#fff" stroke="#000" stroke-width="1.1" stroke-linejoin="miter"/>
<path d="M400.77 175.09L407.37 175.09L404.07 181.29Z" fill="#fff" stroke="#000" stroke-width="1.1" stroke-linejoin="miter"/>
<path d="M394.9 175.1L401.5 175.1L398.2 181.3Z" fill="#fff" stroke="#000" stroke-width="1.1" stroke-linejoin="miter"/>
<path d="M389.03 175.1L395.63 175.1L392.33 181.3Z" fill="#fff" stroke="#000" stroke-width="1.1" stroke-linejoin="miter"/>
<path d="M383.16 175.11L389.76 175.11L386.46 181.31Z" fill="#fff" stroke="#000" stroke-width="1.1" stroke-linejoin="miter"/>
<path d="M377.3 175.12L383.9 175.12L380.6 181.32Z" fill="#fff" stroke="#000" stroke-width="1.1" stroke-linejoin="miter"/>
<path d="M371.43 175.13L378.03 175.13L374.73 181.33Z" fill="#fff" stroke="#000" stroke-width="1.1" stroke-linejoin="miter"/>
<path d="M365.56 175.14L372.16 175.14L368.86 181.34Z" fill="#fff" stroke="#000" stroke-width="1.1" stroke-linejoin="miter"/>
<path d="M359.69 175.16L366.29 175.16L362.99 181.36Z" fill="#fff" stroke="#000" stroke-width="1.1" stroke-linejoin="miter"/>
<path d="M353.82 175.17L360.42 175.17L357.12 181.37Z" fill="#fff" stroke="#000" stroke-width="1.1" stroke-linejoin="miter"/>
<path d="M347.95 175.18L354.56 175.18L351.25 181.38Z" fill="#fff" stroke="#000" stroke-width="1.1" stroke-linejoin="miter"/>
<path d="M342.09 175.19L348.69 175.19L345.39 181.39Z" fill="#fff" stroke="#000" stroke-width="1.1" stroke-linejoin="miter"/>
<path d="M336.22 175.2L342.82 175.2L339.52 181.4Z" fill="#fff" stroke="#000" stroke-width="1.1" stroke-linejoin="miter"/>
<path d="M330.35 175.21L336.95 175.21L333.65 181.41Z" fill="#fff" stroke="#000" stroke-width="1.1" stroke-linejoin="miter"/>
<polyline points="509.7,255.5 503.83,247.47 497.96,240.49 492.1,235.54 486.23,231.29 480.36,227.34 474.49,223.44 468.62,219.83 462.75,217.41 456.88,215.96 451.02,214.94 445.15,214.14 439.28,213.79 433.41,213.75 427.54,213.71 421.67,213.67 415.81,213.65 409.94,213.63 404.07,213.62 398.2,213.61 392.33,213.61 386.46,213.61 380.6,213.61 374.73,213.61 368.86,213.61 362.99,213.61 357.12,213.61 351.25,213.61 345.39,213.61 339.52,213.61 333.65,213.61" fill="none" stroke="#000" stroke-width="1.1" stroke-linejoin="round"/>
<path d="M506.4 253.43L513 253.43L509.7 259.63Z" fill="#fff" stroke="#000" stroke-width="1.1" stroke-linejoin="miter"/>
<path d="M500.53 245.4L507.13 245.4L503.83 251.6Z" fill="#fff" stroke="#000" stroke-width="1.1" stroke-linejoin="miter"/>
<path d="M494.66 238.42L501.26 238.42L497.96 244.62Z" fill="#fff" stroke="#000" stroke-width="1.1" stroke-linejoin="miter"/>
<path d="M488.8 233.48L495.4 233.48L492.1 239.68Z" fill="#fff" stroke="#000" stroke-width="1.1" stroke-linejoin="miter"/>
<path d="M482.93 229.23L489.53 229.23L486.23 235.43Z" fill="#fff" stroke="#000" stroke-width="1.1" stroke-linejoin="miter"/>
<path d="M477.06 225.27L483.66 225.27L480.36 231.47Z" fill="#fff" stroke="#000" stroke-width="1.1" stroke-linejoin="miter"/>
<path d="M471.19 221.37L477.79 221.37L474.49 227.57Z" fill="#fff" stroke="#000" stroke-width="1.1" stroke-linejoin="miter"/>
<path d="M465.32 217.76L471.92 217.76L468.62 223.96Z" fill="#fff" stroke="#000" stroke-width="1.1" stroke-linejoin="miter"/>
<path d="M459.45 215.35L466.05 215.35L462.75 221.55Z" fill="#fff" stroke="#000" stroke-width="1.1" stroke-linejoin="miter"/>
<path d="M453.58 213.89L460.19 213.89L456.88 220.09Z" fill="#fff" stroke="#000" stroke-width="1.1" stroke-linejoin="miter"/>
<path d="M447.72 212.87L454.32 212.87L451.02 219.07Z" fill="#fff" stroke="#000" stroke-width="1.1" stroke-linejoin="miter"/>
<path d="M441.85 212.08L448.45 212.08L445.15 218.28Z" fill="#fff" stroke="#000" stroke-width="1.1" stroke-linejoin="miter"/>
<path d="M435.98 211.73L442.58 211.73L439.28 217.93Z" fill="#fff" stroke="#000" stroke-width="1.1" stroke-linejoin="miter"/>
<path d="M430.11 211.68L436.71 211.68L433.41 217.88Z" fill="#fff" stroke="#000" stroke-width="1.1" stroke-linejoin="miter"/>
<path d="M424.24 211.64L430.84 211.64L427.54 217.84Z" fill="#fff" stroke="#000" stroke-width="1.1" stroke-linejoin="miter"/>
<path d="M418.37 211.61L424.97 211.61L421.67 217.81Z" fill="#fff" stroke="#000" stroke-width="1.1" stroke-linejoin="miter"/>
<path d="M412.51 211.58L419.11 211.58L415.81 217.78Z" fill="#fff" stroke="#000" stroke-width="1.1" stroke-linejoin="miter"/>
<path d="M406.64 211.56L413.24 211.56L409.94 217.76Z" fill="#fff" stroke="#000" stroke-width="1.1" stroke-linejoin="miter"/>
<path d="M400.77 211.55L407.37 211.55L404.07 217.75Z" fill="#fff" stroke="#000" stroke-width="1.1" stroke-linejoin="miter"/>
<path d="M394.9 211.54L401.5 211.54L398.2 217.74Z" fill="#fff" stroke="#000" stroke-width="1.1" stroke-linejoin="miter"/>
<path d="M389.03 211.54L395.63 211.54L392.33 217.74Z" fill="#fff" stroke="#000" stroke-width="1.1" stroke-linejoin="miter"/>
<path d="M383.16 211.54L389.76 211.54L386.46 217.74Z" fill="#fff" stroke="#000" stroke-width="1.1" stroke-linejoin="miter"/>
<path d="M377.3 211.54L383.9 211.54L380.6 217.74Z" fill="#fff" stroke="#000" stroke-width="1.1" stroke-linejoin="miter"/>
<path d="M371.43 211.54L378.03 211.54L374.73 217.74Z" fill="#fff" stroke="#000" stroke-width="1.1" stroke-linejoin="miter"/>
<path d="M365.56 211.54L372.16 211.54L368.86 217.74Z" fill="#fff" stroke="#000" stroke-width="1.1" stroke-linejoin="miter"/>
<path d="M359.69 211.54L366.29 211.54L362.99 217.74Z" fill="#fff" stroke="#000" stroke-width="1.1" stroke-linejoin="miter"/>
<path d="M353.82 211.54L360.42 211.54L357.12 217.74Z" fill="#fff" stroke="#000" stroke-width="1.1" stroke-linejoin="miter"/>
<path d="M347.95 211.54L354.56 211.54L351.25 217.74Z" fill="#fff" stroke="#000" stroke-width="1.1" stroke-linejoin="miter"/>
<path d="M342.09 211.54L348.69 211.54L345.39 217.74Z" fill="#fff" stroke="#000" stroke-width="1.1" stroke-linejoin="miter"/>
<path d="M336.22 211.54L342.82 211.54L339.52 217.74Z" fill="#fff" stroke="#000" stroke-width="1.1" stroke-linejoin="miter"/>
<path d="M330.35 211.54L336.95 211.54L333.65 217.74Z" fill="#fff" stroke="#000" stroke-width="1.1" stroke-linejoin="miter"/>
<polyline points="509.7,255.5 503.83,249.32 497.96,245.61 492.1,243.76 486.23,242.97 480.36,242.43 474.49,242.22 468.62,242.18 462.75,242.16 456.88,242.13 451.02,242.11 445.15,242.09 439.28,242.07 433.41,242.05 427.54,242.04 421.67,242.03 415.81,242.02 409.94,242.01 404.07,242 398.2,241.99 392.33,241.99 386.46,241.98 380.6,241.97 374.73,241.97 368.86,241.96 362.99,241.95 357.12,241.95 351.25,241.94 345.39,241.93 339.52,241.92 333.65,241.91" fill="none" stroke="#000" stroke-width="1.1" stroke-linejoin="round"/>
<path d="M506.4 253.43L513 253.43L509.7 259.63Z" fill="#fff" stroke="#000" stroke-width="1.1" stroke-linejoin="miter"/>
<path d="M500.53 247.25L507.13 247.25L503.83 253.45Z" fill="#fff" stroke="#000" stroke-width="1.1" stroke-linejoin="miter"/>
<path d="M494.66 243.55L501.26 243.55L497.96 249.75Z" fill="#fff" stroke="#000" stroke-width="1.1" stroke-linejoin="miter"/>
<path d="M488.8 241.69L495.4 241.69L492.1 247.89Z" fill="#fff" stroke="#000" stroke-width="1.1" stroke-linejoin="miter"/>
<path d="M482.93 240.91L489.53 240.91L486.23 247.11Z" fill="#fff" stroke="#000" stroke-width="1.1" stroke-linejoin="miter"/>
<path d="M477.06 240.37L483.66 240.37L480.36 246.57Z" fill="#fff" stroke="#000" stroke-width="1.1" stroke-linejoin="miter"/>
<path d="M471.19 240.15L477.79 240.15L474.49 246.35Z" fill="#fff" stroke="#000" stroke-width="1.1" stroke-linejoin="miter"/>
<path d="M465.32 240.12L471.92 240.12L468.62 246.32Z" fill="#fff" stroke="#000" stroke-width="1.1" stroke-linejoin="miter"/>
<path d="M459.45 240.09L466.05 240.09L462.75 246.29Z" fill="#fff" stroke="#000" stroke-width="1.1" stroke-linejoin="miter"/>
<path d="M453.58 240.06L460.19 240.06L456.88 246.26Z" fill="#fff" stroke="#000" stroke-width="1.1" stroke-linejoin="miter"/>
<path d="M447.72 240.04L454.32 240.04L451.02 246.24Z" fill="#fff" stroke="#000" stroke-width="1.1" stroke-linejoin="miter"/>
<path d="M441.85 240.02L448.45 240.02L445.15 246.22Z" fill="#fff" stroke="#000" stroke-width="1.1" stroke-linejoin="miter"/>
<path d="M435.98 240L442.58 240L439.28 246.2Z" fill="#fff" stroke="#000" stroke-width="1.1" stroke-linejoin="miter"/>
<path d="M430.11 239.99L436.71 239.99L433.41 246.19Z" fill="#fff" stroke="#000" stroke-width="1.1" stroke-linejoin="miter"/>
<path d="M424.24 239.97L430.84 239.97L427.54 246.17Z" fill="#fff" stroke="#000" stroke-width="1.1" stroke-linejoin="miter"/>
<path d="M418.37 239.96L424.97 239.96L421.67 246.16Z" fill="#fff" stroke="#000" stroke-width="1.1" stroke-linejoin="miter"/>
<path d="M412.51 239.95L419.11 239.95L415.81 246.15Z" fill="#fff" stroke="#000" stroke-width="1.1" stroke-linejoin="miter"/>
<path d="M406.64 239.94L413.24 239.94L409.94 246.14Z" fill="#fff" stroke="#000" stroke-width="1.1" stroke-linejoin="miter"/>
<path d="M400.77 239.93L407.37 239.93L404.07 246.13Z" fill="#fff" stroke="#000" stroke-width="1.1" stroke-linejoin="miter"/>
<path d="M394.9 239.93L401.5 239.93L398.2 246.13Z" fill="#fff" stroke="#000" stroke-width="1.1" stroke-linejoin="miter"/>
<path d="M389.03 239.92L395.63 239.92L392.33 246.12Z" fill="#fff" stroke="#000" stroke-width="1.1" stroke-linejoin="miter"/>
<path d="M383.16 239.91L389.76 239.91L386.46 246.11Z" fill="#fff" stroke="#000" stroke-width="1.1" stroke-linejoin="miter"/>
<path d="M377.3 239.91L383.9 239.91L380.6 246.11Z" fill="#fff" stroke="#000" stroke-width="1.1" stroke-linejoin="miter"/>
<path d="M371.43 239.9L378.03 239.9L374.73 246.1Z" fill="#fff" stroke="#000" stroke-width="1.1" stroke-linejoin="miter"/>
<path d="M365.56 239.89L372.16 239.89L368.86 246.09Z" fill="#fff" stroke="#000" stroke-width="1.1" stroke-linejoin="miter"/>
<path d="M359.69 239.89L366.29 239.89L362.99 246.09Z" fill="#fff" stroke="#000" stroke-width="1.1" stroke-linejoin="miter"/>
<path d="M353.82 239.88L360.42 239.88L357.12 246.08Z" fill="#fff" stroke="#000" stroke-width="1.1" stroke-linejoin="miter"/>
<path d="M347.95 239.87L354.56 239.87L351.25 246.07Z" fill="#fff" stroke="#000" stroke-width="1.1" stroke-linejoin="miter"/>
<path d="M342.09 239.86L348.69 239.86L345.39 246.06Z" fill="#fff" stroke="#000" stroke-width="1.1" stroke-linejoin="miter"/>
<path d="M336.22 239.85L342.82 239.85L339.52 246.05Z" fill="#fff" stroke="#000" stroke-width="1.1" stroke-linejoin="miter"/>
<path d="M330.35 239.84L336.95 239.84L333.65 246.04Z" fill="#fff" stroke="#000" stroke-width="1.1" stroke-linejoin="miter"/>
<polyline points="509.7,254.76 503.83,254.76 497.96,254.76 492.1,254.76 486.23,254.76 480.36,254.76 474.49,254.76 468.62,254.76 462.75,254.76 456.88,254.76 451.02,254.76 445.15,254.76 439.28,254.76 433.41,254.76 427.54,254.76 421.67,254.76 415.81,254.76 409.94,254.76 404.07,254.76 398.2,254.76 392.33,254.76 386.46,254.76 380.6,254.76 374.73,254.76 368.86,254.76 362.99,254.76 357.12,254.76 351.25,254.76 345.39,254.76 339.52,254.76 333.65,254.76" fill="none" stroke="#000" stroke-width="1.1" stroke-linejoin="round"/>
<path d="M506.4 252.69L513 252.69L509.7 258.89Z" fill="#fff" stroke="#000" stroke-width="1.1" stroke-linejoin="miter"/>
<path d="M500.53 252.69L507.13 252.69L503.83 258.89Z" fill="#fff" stroke="#000" stroke-width="1.1" stroke-linejoin="miter"/>
<path d="M494.66 252.69L501.26 252.69L497.96 258.89Z" fill="#fff" stroke="#000" stroke-width="1.1" stroke-linejoin="miter"/>
<path d="M488.8 252.69L495.4 252.69L492.1 258.89Z" fill="#fff" stroke="#000" stroke-width="1.1" stroke-linejoin="miter"/>
<path d="M482.93 252.69L489.53 252.69L486.23 258.89Z" fill="#fff" stroke="#000" stroke-width="1.1" stroke-linejoin="miter"/>
<path d="M477.06 252.69L483.66 252.69L480.36 258.89Z" fill="#fff" stroke="#000" stroke-width="1.1" stroke-linejoin="miter"/>
<path d="M471.19 252.69L477.79 252.69L474.49 258.89Z" fill="#fff" stroke="#000" stroke-width="1.1" stroke-linejoin="miter"/>
<path d="M465.32 252.69L471.92 252.69L468.62 258.89Z" fill="#fff" stroke="#000" stroke-width="1.1" stroke-linejoin="miter"/>
<path d="M459.45 252.69L466.05 252.69L462.75 258.89Z" fill="#fff" stroke="#000" stroke-width="1.1" stroke-linejoin="miter"/>
<path d="M453.58 252.69L460.19 252.69L456.88 258.89Z" fill="#fff" stroke="#000" stroke-width="1.1" stroke-linejoin="miter"/>
<path d="M447.72 252.69L454.32 252.69L451.02 258.89Z" fill="#fff" stroke="#000" stroke-width="1.1" stroke-linejoin="miter"/>
<path d="M441.85 252.69L448.45 252.69L445.15 258.89Z" fill="#fff" stroke="#000" stroke-width="1.1" stroke-linejoin="miter"/>
<path d="M435.98 252.69L442.58 252.69L439.28 258.89Z" fill="#fff" stroke="#000" stroke-width="1.1" stroke-linejoin="miter"/>
<path d="M430.11 252.69L436.71 252.69L433.41 258.89Z" fill="#fff" stroke="#000" stroke-width="1.1" stroke-linejoin="miter"/>
<path d="M424.24 252.69L430.84 252.69L427.54 258.89Z" fill="#fff" stroke="#000" stroke-width="1.1" stroke-linejoin="miter"/>
<path d="M418.37 252.69L424.97 252.69L421.67 258.89Z" fill="#fff" stroke="#000" stroke-width="1.1" stroke-linejoin="miter"/>
<path d="M412.51 252.69L419.11 252.69L415.81 258.89Z" fill="#fff" stroke="#000" stroke-width="1.1" stroke-linejoin="miter"/>
<path d="M406.64 252.69L413.24 252.69L409.94 258.89Z" fill="#fff" stroke="#000" stroke-width="1.1" stroke-linejoin="miter"/>
<path d="M400.77 252.69L407.37 252.69L404.07 258.89Z" fill="#fff" stroke="#000" stroke-width="1.1" stroke-linejoin="miter"/>
<path d="M394.9 252.69L401.5 252.69L398.2 258.89Z" fill="#fff" stroke="#000" stroke-width="1.1" stroke-linejoin="miter"/>
<path d="M389.03 252.69L395.63 252.69L392.33 258.89Z" fill="#fff" stroke="#000" stroke-width="1.1" stroke-linejoin="miter"/>
<path d="M383.16 252.69L389.76 252.69L386.46 258.89Z" fill="#fff" stroke="#000" stroke-width="1.1" stroke-linejoin="miter"/>
<path d="M377.3 252.69L383.9 252.69L380.6 258.89Z" fill="#fff" stroke="#000" stroke-width="1.1" stroke-linejoin="miter"/>
<path d="M371.43 252.69L378.03 252.69L374.73 258.89Z" fill="#fff" stroke="#000" stroke-width="1.1" stroke-linejoin="miter"/>
<path d="M365.56 252.69L372.16 252.69L368.86 258.89Z" fill="#fff" stroke="#000" stroke-width="1.1" stroke-linejoin="miter"/>
<path d="M359.69 252.69L366.29 252.69L362.99 258.89Z" fill="#fff" stroke="#000" stroke-width="1.1" stroke-linejoin="miter"/>
<path d="M353.82 252.69L360.42 252.69L357.12 258.89Z" fill="#fff" stroke="#000" stroke-width="1.1" stroke-linejoin="miter"/>
<path d="M347.95 252.69L354.56 252.69L351.25 258.89Z" fill="#fff" stroke="#000" stroke-width="1.1" stroke-linejoin="miter"/>
<path d="M342.09 252.69L348.69 252.69L345.39 258.89Z" fill="#fff" stroke="#000" stroke-width="1.1" stroke-linejoin="miter"/>
<path d="M336.22 252.69L342.82 252.69L339.52 258.89Z" fill="#fff" stroke="#000" stroke-width="1.1" stroke-linejoin="miter"/>
<path d="M330.35 252.69L336.95 252.69L333.65 258.89Z" fill="#fff" stroke="#000" stroke-width="1.1" stroke-linejoin="miter"/>
<polyline points="509.7,255.5 503.83,245.61 497.96,235.73 492.1,225.84 486.23,215.96 480.36,206.07 474.49,196.18 468.62,186.34 462.75,176.41 456.88,166.13 451.02,156.02 445.15,146.56 439.28,137.49 433.41,128.72 427.54,120.19 421.67,111.68 415.81,103.5 409.94,95.81 404.07,88.67 398.2,82.08 392.33,76.32 386.46,71.4 380.6,67.67 374.73,64.97 368.86,63.65 362.99,63.84 357.12,64.27 351.25,65.12 345.39,66.43 339.52,68.28 333.65,70.76" fill="none" stroke="#ff0000" stroke-width="1.1" stroke-linejoin="round"/>
<rect x="507.1" y="252.9" width="5.2" height="5.2" fill="#fff" stroke="#ff0000" stroke-width="1.25"/>
<rect x="501.23" y="243.01" width="5.2" height="5.2" fill="#fff" stroke="#ff0000" stroke-width="1.25"/>
<rect x="495.36" y="233.13" width="5.2" height="5.2" fill="#fff" stroke="#ff0000" stroke-width="1.25"/>
<rect x="489.5" y="223.24" width="5.2" height="5.2" fill="#fff" stroke="#ff0000" stroke-width="1.25"/>
<rect x="483.63" y="213.36" width="5.2" height="5.2" fill="#fff" stroke="#ff0000" stroke-width="1.25"/>
<rect x="477.76" y="203.47" width="5.2" height="5.2" fill="#fff" stroke="#ff0000" stroke-width="1.25"/>
<rect x="471.89" y="193.58" width="5.2" height="5.2" fill="#fff" stroke="#ff0000" stroke-width="1.25"/>
<rect x="466.02" y="183.74" width="5.2" height="5.2" fill="#fff" stroke="#ff0000" stroke-width="1.25"/>
<rect x="460.15" y="173.81" width="5.2" height="5.2" fill="#fff" stroke="#ff0000" stroke-width="1.25"/>
<rect x="454.28" y="163.53" width="5.2" height="5.2" fill="#fff" stroke="#ff0000" stroke-width="1.25"/>
<rect x="448.42" y="153.42" width="5.2" height="5.2" fill="#fff" stroke="#ff0000" stroke-width="1.25"/>
<rect x="442.55" y="143.96" width="5.2" height="5.2" fill="#fff" stroke="#ff0000" stroke-width="1.25"/>
<rect x="436.68" y="134.89" width="5.2" height="5.2" fill="#fff" stroke="#ff0000" stroke-width="1.25"/>
<rect x="430.81" y="126.12" width="5.2" height="5.2" fill="#fff" stroke="#ff0000" stroke-width="1.25"/>
<rect x="424.94" y="117.59" width="5.2" height="5.2" fill="#fff" stroke="#ff0000" stroke-width="1.25"/>
<rect x="419.07" y="109.08" width="5.2" height="5.2" fill="#fff" stroke="#ff0000" stroke-width="1.25"/>
<rect x="413.21" y="100.9" width="5.2" height="5.2" fill="#fff" stroke="#ff0000" stroke-width="1.25"/>
<rect x="407.34" y="93.21" width="5.2" height="5.2" fill="#fff" stroke="#ff0000" stroke-width="1.25"/>
<rect x="401.47" y="86.07" width="5.2" height="5.2" fill="#fff" stroke="#ff0000" stroke-width="1.25"/>
<rect x="395.6" y="79.48" width="5.2" height="5.2" fill="#fff" stroke="#ff0000" stroke-width="1.25"/>
<rect x="389.73" y="73.72" width="5.2" height="5.2" fill="#fff" stroke="#ff0000" stroke-width="1.25"/>
<rect x="383.86" y="68.8" width="5.2" height="5.2" fill="#fff" stroke="#ff0000" stroke-width="1.25"/>
<rect x="378" y="65.07" width="5.2" height="5.2" fill="#fff" stroke="#ff0000" stroke-width="1.25"/>
<rect x="372.13" y="62.37" width="5.2" height="5.2" fill="#fff" stroke="#ff0000" stroke-width="1.25"/>
<rect x="366.26" y="61.05" width="5.2" height="5.2" fill="#fff" stroke="#ff0000" stroke-width="1.25"/>
<rect x="360.39" y="61.24" width="5.2" height="5.2" fill="#fff" stroke="#ff0000" stroke-width="1.25"/>
<rect x="354.52" y="61.67" width="5.2" height="5.2" fill="#fff" stroke="#ff0000" stroke-width="1.25"/>
<rect x="348.65" y="62.52" width="5.2" height="5.2" fill="#fff" stroke="#ff0000" stroke-width="1.25"/>
<rect x="342.79" y="63.83" width="5.2" height="5.2" fill="#fff" stroke="#ff0000" stroke-width="1.25"/>
<rect x="336.92" y="65.68" width="5.2" height="5.2" fill="#fff" stroke="#ff0000" stroke-width="1.25"/>
<rect x="331.05" y="68.16" width="5.2" height="5.2" fill="#fff" stroke="#ff0000" stroke-width="1.25"/>
<polyline points="509.7,255.5 503.83,245.92 497.96,236.35 492.1,226.77 486.23,217.19 480.36,207.53 474.49,198.04 468.62,188.96 462.75,180.12 456.88,171.43 451.02,162.82 445.15,154.09 439.28,145.52 433.41,137.12 427.54,129.45 421.67,123.27 415.81,118.33 409.94,114.01 404.07,110.92 398.2,108.84 392.33,107.83 386.46,108.47 380.6,109.68 374.73,111.09 368.86,112.77 362.99,114.58 357.12,116.48 351.25,118.42 345.39,120.19 339.52,121.48 333.65,122.66" fill="none" stroke="#ff0000" stroke-width="1.1" stroke-linejoin="round"/>
<rect x="507.1" y="252.9" width="5.2" height="5.2" fill="#fff" stroke="#ff0000" stroke-width="1.25"/>
<rect x="501.23" y="243.32" width="5.2" height="5.2" fill="#fff" stroke="#ff0000" stroke-width="1.25"/>
<rect x="495.36" y="233.75" width="5.2" height="5.2" fill="#fff" stroke="#ff0000" stroke-width="1.25"/>
<rect x="489.5" y="224.17" width="5.2" height="5.2" fill="#fff" stroke="#ff0000" stroke-width="1.25"/>
<rect x="483.63" y="214.59" width="5.2" height="5.2" fill="#fff" stroke="#ff0000" stroke-width="1.25"/>
<rect x="477.76" y="204.93" width="5.2" height="5.2" fill="#fff" stroke="#ff0000" stroke-width="1.25"/>
<rect x="471.89" y="195.44" width="5.2" height="5.2" fill="#fff" stroke="#ff0000" stroke-width="1.25"/>
<rect x="466.02" y="186.36" width="5.2" height="5.2" fill="#fff" stroke="#ff0000" stroke-width="1.25"/>
<rect x="460.15" y="177.52" width="5.2" height="5.2" fill="#fff" stroke="#ff0000" stroke-width="1.25"/>
<rect x="454.28" y="168.83" width="5.2" height="5.2" fill="#fff" stroke="#ff0000" stroke-width="1.25"/>
<rect x="448.42" y="160.22" width="5.2" height="5.2" fill="#fff" stroke="#ff0000" stroke-width="1.25"/>
<rect x="442.55" y="151.49" width="5.2" height="5.2" fill="#fff" stroke="#ff0000" stroke-width="1.25"/>
<rect x="436.68" y="142.92" width="5.2" height="5.2" fill="#fff" stroke="#ff0000" stroke-width="1.25"/>
<rect x="430.81" y="134.52" width="5.2" height="5.2" fill="#fff" stroke="#ff0000" stroke-width="1.25"/>
<rect x="424.94" y="126.85" width="5.2" height="5.2" fill="#fff" stroke="#ff0000" stroke-width="1.25"/>
<rect x="419.07" y="120.67" width="5.2" height="5.2" fill="#fff" stroke="#ff0000" stroke-width="1.25"/>
<rect x="413.21" y="115.73" width="5.2" height="5.2" fill="#fff" stroke="#ff0000" stroke-width="1.25"/>
<rect x="407.34" y="111.41" width="5.2" height="5.2" fill="#fff" stroke="#ff0000" stroke-width="1.25"/>
<rect x="401.47" y="108.32" width="5.2" height="5.2" fill="#fff" stroke="#ff0000" stroke-width="1.25"/>
<rect x="395.6" y="106.24" width="5.2" height="5.2" fill="#fff" stroke="#ff0000" stroke-width="1.25"/>
<rect x="389.73" y="105.23" width="5.2" height="5.2" fill="#fff" stroke="#ff0000" stroke-width="1.25"/>
<rect x="383.86" y="105.87" width="5.2" height="5.2" fill="#fff" stroke="#ff0000" stroke-width="1.25"/>
<rect x="378" y="107.08" width="5.2" height="5.2" fill="#fff" stroke="#ff0000" stroke-width="1.25"/>
<rect x="372.13" y="108.49" width="5.2" height="5.2" fill="#fff" stroke="#ff0000" stroke-width="1.25"/>
<rect x="366.26" y="110.17" width="5.2" height="5.2" fill="#fff" stroke="#ff0000" stroke-width="1.25"/>
<rect x="360.39" y="111.98" width="5.2" height="5.2" fill="#fff" stroke="#ff0000" stroke-width="1.25"/>
<rect x="354.52" y="113.88" width="5.2" height="5.2" fill="#fff" stroke="#ff0000" stroke-width="1.25"/>
<rect x="348.65" y="115.82" width="5.2" height="5.2" fill="#fff" stroke="#ff0000" stroke-width="1.25"/>
<rect x="342.79" y="117.59" width="5.2" height="5.2" fill="#fff" stroke="#ff0000" stroke-width="1.25"/>
<rect x="336.92" y="118.88" width="5.2" height="5.2" fill="#fff" stroke="#ff0000" stroke-width="1.25"/>
<rect x="331.05" y="120.06" width="5.2" height="5.2" fill="#fff" stroke="#ff0000" stroke-width="1.25"/>
<polyline points="509.7,255.5 503.83,245.61 497.96,235.73 492.1,225.8 486.23,215.96 480.36,205.79 474.49,196.8 468.62,190.5 462.75,185.31 456.88,180.52 451.02,175.18 445.15,169.62 439.28,164.67 433.41,161.27 427.54,159.11 421.67,157.88 415.81,158.52 409.94,159.8 404.07,161.11 398.2,162.64 392.33,164.05 386.46,165.27 380.6,166.44 374.73,167.52 368.86,168.49 362.99,169.31 357.12,169.97 351.25,170.54 345.39,171.06 339.52,171.56 333.65,172.09" fill="none" stroke="#ff0000" stroke-width="1.1" stroke-linejoin="round"/>
<rect x="507.1" y="252.9" width="5.2" height="5.2" fill="#fff" stroke="#ff0000" stroke-width="1.25"/>
<rect x="501.23" y="243.01" width="5.2" height="5.2" fill="#fff" stroke="#ff0000" stroke-width="1.25"/>
<rect x="495.36" y="233.13" width="5.2" height="5.2" fill="#fff" stroke="#ff0000" stroke-width="1.25"/>
<rect x="489.5" y="223.2" width="5.2" height="5.2" fill="#fff" stroke="#ff0000" stroke-width="1.25"/>
<rect x="483.63" y="213.36" width="5.2" height="5.2" fill="#fff" stroke="#ff0000" stroke-width="1.25"/>
<rect x="477.76" y="203.19" width="5.2" height="5.2" fill="#fff" stroke="#ff0000" stroke-width="1.25"/>
<rect x="471.89" y="194.2" width="5.2" height="5.2" fill="#fff" stroke="#ff0000" stroke-width="1.25"/>
<rect x="466.02" y="187.9" width="5.2" height="5.2" fill="#fff" stroke="#ff0000" stroke-width="1.25"/>
<rect x="460.15" y="182.71" width="5.2" height="5.2" fill="#fff" stroke="#ff0000" stroke-width="1.25"/>
<rect x="454.28" y="177.92" width="5.2" height="5.2" fill="#fff" stroke="#ff0000" stroke-width="1.25"/>
<rect x="448.42" y="172.58" width="5.2" height="5.2" fill="#fff" stroke="#ff0000" stroke-width="1.25"/>
<rect x="442.55" y="167.02" width="5.2" height="5.2" fill="#fff" stroke="#ff0000" stroke-width="1.25"/>
<rect x="436.68" y="162.07" width="5.2" height="5.2" fill="#fff" stroke="#ff0000" stroke-width="1.25"/>
<rect x="430.81" y="158.67" width="5.2" height="5.2" fill="#fff" stroke="#ff0000" stroke-width="1.25"/>
<rect x="424.94" y="156.51" width="5.2" height="5.2" fill="#fff" stroke="#ff0000" stroke-width="1.25"/>
<rect x="419.07" y="155.28" width="5.2" height="5.2" fill="#fff" stroke="#ff0000" stroke-width="1.25"/>
<rect x="413.21" y="155.92" width="5.2" height="5.2" fill="#fff" stroke="#ff0000" stroke-width="1.25"/>
<rect x="407.34" y="157.2" width="5.2" height="5.2" fill="#fff" stroke="#ff0000" stroke-width="1.25"/>
<rect x="401.47" y="158.51" width="5.2" height="5.2" fill="#fff" stroke="#ff0000" stroke-width="1.25"/>
<rect x="395.6" y="160.04" width="5.2" height="5.2" fill="#fff" stroke="#ff0000" stroke-width="1.25"/>
<rect x="389.73" y="161.45" width="5.2" height="5.2" fill="#fff" stroke="#ff0000" stroke-width="1.25"/>
<rect x="383.86" y="162.67" width="5.2" height="5.2" fill="#fff" stroke="#ff0000" stroke-width="1.25"/>
<rect x="378" y="163.84" width="5.2" height="5.2" fill="#fff" stroke="#ff0000" stroke-width="1.25"/>
<rect x="372.13" y="164.92" width="5.2" height="5.2" fill="#fff" stroke="#ff0000" stroke-width="1.25"/>
<rect x="366.26" y="165.89" width="5.2" height="5.2" fill="#fff" stroke="#ff0000" stroke-width="1.25"/>
<rect x="360.39" y="166.71" width="5.2" height="5.2" fill="#fff" stroke="#ff0000" stroke-width="1.25"/>
<rect x="354.52" y="167.37" width="5.2" height="5.2" fill="#fff" stroke="#ff0000" stroke-width="1.25"/>
<rect x="348.65" y="167.94" width="5.2" height="5.2" fill="#fff" stroke="#ff0000" stroke-width="1.25"/>
<rect x="342.79" y="168.46" width="5.2" height="5.2" fill="#fff" stroke="#ff0000" stroke-width="1.25"/>
<rect x="336.92" y="168.96" width="5.2" height="5.2" fill="#fff" stroke="#ff0000" stroke-width="1.25"/>
<rect x="331.05" y="169.49" width="5.2" height="5.2" fill="#fff" stroke="#ff0000" stroke-width="1.25"/>
<polyline points="509.7,255.5 503.83,242.87 497.96,235.38 492.1,228.04 486.23,222.51 480.36,218.38 474.49,214.72 468.62,211.28 462.75,208.42 456.88,206.65 451.02,206.16 445.15,206.1 439.28,206.49 433.41,207.01 427.54,207.69 421.67,208.38 415.81,208.94 409.94,209.43 404.07,209.9 398.2,210.4 392.33,211.01 386.46,211.96 380.6,212.82 374.73,213.17 368.86,213.4 362.99,213.61 357.12,213.82 351.25,214.02 345.39,214.21 339.52,214.4 333.65,214.6" fill="none" stroke="#ff0000" stroke-width="1.1" stroke-linejoin="round"/>
<rect x="507.1" y="252.9" width="5.2" height="5.2" fill="#fff" stroke="#ff0000" stroke-width="1.25"/>
<rect x="501.23" y="240.27" width="5.2" height="5.2" fill="#fff" stroke="#ff0000" stroke-width="1.25"/>
<rect x="495.36" y="232.78" width="5.2" height="5.2" fill="#fff" stroke="#ff0000" stroke-width="1.25"/>
<rect x="489.5" y="225.44" width="5.2" height="5.2" fill="#fff" stroke="#ff0000" stroke-width="1.25"/>
<rect x="483.63" y="219.91" width="5.2" height="5.2" fill="#fff" stroke="#ff0000" stroke-width="1.25"/>
<rect x="477.76" y="215.78" width="5.2" height="5.2" fill="#fff" stroke="#ff0000" stroke-width="1.25"/>
<rect x="471.89" y="212.12" width="5.2" height="5.2" fill="#fff" stroke="#ff0000" stroke-width="1.25"/>
<rect x="466.02" y="208.68" width="5.2" height="5.2" fill="#fff" stroke="#ff0000" stroke-width="1.25"/>
<rect x="460.15" y="205.82" width="5.2" height="5.2" fill="#fff" stroke="#ff0000" stroke-width="1.25"/>
<rect x="454.28" y="204.05" width="5.2" height="5.2" fill="#fff" stroke="#ff0000" stroke-width="1.25"/>
<rect x="448.42" y="203.56" width="5.2" height="5.2" fill="#fff" stroke="#ff0000" stroke-width="1.25"/>
<rect x="442.55" y="203.5" width="5.2" height="5.2" fill="#fff" stroke="#ff0000" stroke-width="1.25"/>
<rect x="436.68" y="203.89" width="5.2" height="5.2" fill="#fff" stroke="#ff0000" stroke-width="1.25"/>
<rect x="430.81" y="204.41" width="5.2" height="5.2" fill="#fff" stroke="#ff0000" stroke-width="1.25"/>
<rect x="424.94" y="205.09" width="5.2" height="5.2" fill="#fff" stroke="#ff0000" stroke-width="1.25"/>
<rect x="419.07" y="205.78" width="5.2" height="5.2" fill="#fff" stroke="#ff0000" stroke-width="1.25"/>
<rect x="413.21" y="206.34" width="5.2" height="5.2" fill="#fff" stroke="#ff0000" stroke-width="1.25"/>
<rect x="407.34" y="206.83" width="5.2" height="5.2" fill="#fff" stroke="#ff0000" stroke-width="1.25"/>
<rect x="401.47" y="207.3" width="5.2" height="5.2" fill="#fff" stroke="#ff0000" stroke-width="1.25"/>
<rect x="395.6" y="207.8" width="5.2" height="5.2" fill="#fff" stroke="#ff0000" stroke-width="1.25"/>
<rect x="389.73" y="208.41" width="5.2" height="5.2" fill="#fff" stroke="#ff0000" stroke-width="1.25"/>
<rect x="383.86" y="209.36" width="5.2" height="5.2" fill="#fff" stroke="#ff0000" stroke-width="1.25"/>
<rect x="378" y="210.22" width="5.2" height="5.2" fill="#fff" stroke="#ff0000" stroke-width="1.25"/>
<rect x="372.13" y="210.57" width="5.2" height="5.2" fill="#fff" stroke="#ff0000" stroke-width="1.25"/>
<rect x="366.26" y="210.8" width="5.2" height="5.2" fill="#fff" stroke="#ff0000" stroke-width="1.25"/>
<rect x="360.39" y="211.01" width="5.2" height="5.2" fill="#fff" stroke="#ff0000" stroke-width="1.25"/>
<rect x="354.52" y="211.22" width="5.2" height="5.2" fill="#fff" stroke="#ff0000" stroke-width="1.25"/>
<rect x="348.65" y="211.42" width="5.2" height="5.2" fill="#fff" stroke="#ff0000" stroke-width="1.25"/>
<rect x="342.79" y="211.61" width="5.2" height="5.2" fill="#fff" stroke="#ff0000" stroke-width="1.25"/>
<rect x="336.92" y="211.8" width="5.2" height="5.2" fill="#fff" stroke="#ff0000" stroke-width="1.25"/>
<rect x="331.05" y="212" width="5.2" height="5.2" fill="#fff" stroke="#ff0000" stroke-width="1.25"/>
<polyline points="509.7,252.41 503.83,248.12 497.96,245.34 492.1,243.56 486.23,242.52 480.36,241.91 474.49,241.6 468.62,241.52 462.75,241.46 456.88,241.42 451.02,241.41 445.15,241.43 439.28,241.47 433.41,241.54 427.54,241.62 421.67,241.71 415.81,241.82 409.94,241.92 404.07,242.03 398.2,242.13 392.33,242.22 386.46,242.3 380.6,242.38 374.73,242.46 368.86,242.54 362.99,242.62 357.12,242.7 351.25,242.78 345.39,242.86 339.52,242.94 333.65,243.02" fill="none" stroke="#ff0000" stroke-width="1.1" stroke-linejoin="round"/>
<rect x="507.1" y="249.81" width="5.2" height="5.2" fill="#fff" stroke="#ff0000" stroke-width="1.25"/>
<rect x="501.23" y="245.52" width="5.2" height="5.2" fill="#fff" stroke="#ff0000" stroke-width="1.25"/>
<rect x="495.36" y="242.74" width="5.2" height="5.2" fill="#fff" stroke="#ff0000" stroke-width="1.25"/>
<rect x="489.5" y="240.96" width="5.2" height="5.2" fill="#fff" stroke="#ff0000" stroke-width="1.25"/>
<rect x="483.63" y="239.92" width="5.2" height="5.2" fill="#fff" stroke="#ff0000" stroke-width="1.25"/>
<rect x="477.76" y="239.31" width="5.2" height="5.2" fill="#fff" stroke="#ff0000" stroke-width="1.25"/>
<rect x="471.89" y="239" width="5.2" height="5.2" fill="#fff" stroke="#ff0000" stroke-width="1.25"/>
<rect x="466.02" y="238.92" width="5.2" height="5.2" fill="#fff" stroke="#ff0000" stroke-width="1.25"/>
<rect x="460.15" y="238.86" width="5.2" height="5.2" fill="#fff" stroke="#ff0000" stroke-width="1.25"/>
<rect x="454.28" y="238.82" width="5.2" height="5.2" fill="#fff" stroke="#ff0000" stroke-width="1.25"/>
<rect x="448.42" y="238.81" width="5.2" height="5.2" fill="#fff" stroke="#ff0000" stroke-width="1.25"/>
<rect x="442.55" y="238.83" width="5.2" height="5.2" fill="#fff" stroke="#ff0000" stroke-width="1.25"/>
<rect x="436.68" y="238.87" width="5.2" height="5.2" fill="#fff" stroke="#ff0000" stroke-width="1.25"/>
<rect x="430.81" y="238.94" width="5.2" height="5.2" fill="#fff" stroke="#ff0000" stroke-width="1.25"/>
<rect x="424.94" y="239.02" width="5.2" height="5.2" fill="#fff" stroke="#ff0000" stroke-width="1.25"/>
<rect x="419.07" y="239.11" width="5.2" height="5.2" fill="#fff" stroke="#ff0000" stroke-width="1.25"/>
<rect x="413.21" y="239.22" width="5.2" height="5.2" fill="#fff" stroke="#ff0000" stroke-width="1.25"/>
<rect x="407.34" y="239.32" width="5.2" height="5.2" fill="#fff" stroke="#ff0000" stroke-width="1.25"/>
<rect x="401.47" y="239.43" width="5.2" height="5.2" fill="#fff" stroke="#ff0000" stroke-width="1.25"/>
<rect x="395.6" y="239.53" width="5.2" height="5.2" fill="#fff" stroke="#ff0000" stroke-width="1.25"/>
<rect x="389.73" y="239.62" width="5.2" height="5.2" fill="#fff" stroke="#ff0000" stroke-width="1.25"/>
<rect x="383.86" y="239.7" width="5.2" height="5.2" fill="#fff" stroke="#ff0000" stroke-width="1.25"/>
<rect x="378" y="239.78" width="5.2" height="5.2" fill="#fff" stroke="#ff0000" stroke-width="1.25"/>
<rect x="372.13" y="239.86" width="5.2" height="5.2" fill="#fff" stroke="#ff0000" stroke-width="1.25"/>
<rect x="366.26" y="239.94" width="5.2" height="5.2" fill="#fff" stroke="#ff0000" stroke-width="1.25"/>
<rect x="360.39" y="240.02" width="5.2" height="5.2" fill="#fff" stroke="#ff0000" stroke-width="1.25"/>
<rect x="354.52" y="240.1" width="5.2" height="5.2" fill="#fff" stroke="#ff0000" stroke-width="1.25"/>
<rect x="348.65" y="240.18" width="5.2" height="5.2" fill="#fff" stroke="#ff0000" stroke-width="1.25"/>
<rect x="342.79" y="240.26" width="5.2" height="5.2" fill="#fff" stroke="#ff0000" stroke-width="1.25"/>
<rect x="336.92" y="240.34" width="5.2" height="5.2" fill="#fff" stroke="#ff0000" stroke-width="1.25"/>
<rect x="331.05" y="240.42" width="5.2" height="5.2" fill="#fff" stroke="#ff0000" stroke-width="1.25"/>
<polyline points="509.7,254.39 503.83,253.65 497.96,253.65 492.1,253.65 486.23,253.65 480.36,253.65 474.49,253.65 468.62,253.65 462.75,253.65 456.88,253.65 451.02,253.65 445.15,253.65 439.28,253.65 433.41,253.65 427.54,253.65 421.67,253.65 415.81,253.65 409.94,253.65 404.07,253.65 398.2,253.65 392.33,253.65 386.46,253.65 380.6,253.65 374.73,253.65 368.86,253.65 362.99,253.65 357.12,253.65 351.25,253.65 345.39,253.65 339.52,253.65 333.65,253.65" fill="none" stroke="#ff0000" stroke-width="1.1" stroke-linejoin="round"/>
<rect x="507.1" y="251.79" width="5.2" height="5.2" fill="#fff" stroke="#ff0000" stroke-width="1.25"/>
<rect x="501.23" y="251.05" width="5.2" height="5.2" fill="#fff" stroke="#ff0000" stroke-width="1.25"/>
<rect x="495.36" y="251.05" width="5.2" height="5.2" fill="#fff" stroke="#ff0000" stroke-width="1.25"/>
<rect x="489.5" y="251.05" width="5.2" height="5.2" fill="#fff" stroke="#ff0000" stroke-width="1.25"/>
<rect x="483.63" y="251.05" width="5.2" height="5.2" fill="#fff" stroke="#ff0000" stroke-width="1.25"/>
<rect x="477.76" y="251.05" width="5.2" height="5.2" fill="#fff" stroke="#ff0000" stroke-width="1.25"/>
<rect x="471.89" y="251.05" width="5.2" height="5.2" fill="#fff" stroke="#ff0000" stroke-width="1.25"/>
<rect x="466.02" y="251.05" width="5.2" height="5.2" fill="#fff" stroke="#ff0000" stroke-width="1.25"/>
<rect x="460.15" y="251.05" width="5.2" height="5.2" fill="#fff" stroke="#ff0000" stroke-width="1.25"/>
<rect x="454.28" y="251.05" width="5.2" height="5.2" fill="#fff" stroke="#ff0000" stroke-width="1.25"/>
<rect x="448.42" y="251.05" width="5.2" height="5.2" fill="#fff" stroke="#ff0000" stroke-width="1.25"/>
<rect x="442.55" y="251.05" width="5.2" height="5.2" fill="#fff" stroke="#ff0000" stroke-width="1.25"/>
<rect x="436.68" y="251.05" width="5.2" height="5.2" fill="#fff" stroke="#ff0000" stroke-width="1.25"/>
<rect x="430.81" y="251.05" width="5.2" height="5.2" fill="#fff" stroke="#ff0000" stroke-width="1.25"/>
<rect x="424.94" y="251.05" width="5.2" height="5.2" fill="#fff" stroke="#ff0000" stroke-width="1.25"/>
<rect x="419.07" y="251.05" width="5.2" height="5.2" fill="#fff" stroke="#ff0000" stroke-width="1.25"/>
<rect x="413.21" y="251.05" width="5.2" height="5.2" fill="#fff" stroke="#ff0000" stroke-width="1.25"/>
<rect x="407.34" y="251.05" width="5.2" height="5.2" fill="#fff" stroke="#ff0000" stroke-width="1.25"/>
<rect x="401.47" y="251.05" width="5.2" height="5.2" fill="#fff" stroke="#ff0000" stroke-width="1.25"/>
<rect x="395.6" y="251.05" width="5.2" height="5.2" fill="#fff" stroke="#ff0000" stroke-width="1.25"/>
<rect x="389.73" y="251.05" width="5.2" height="5.2" fill="#fff" stroke="#ff0000" stroke-width="1.25"/>
<rect x="383.86" y="251.05" width="5.2" height="5.2" fill="#fff" stroke="#ff0000" stroke-width="1.25"/>
<rect x="378" y="251.05" width="5.2" height="5.2" fill="#fff" stroke="#ff0000" stroke-width="1.25"/>
<rect x="372.13" y="251.05" width="5.2" height="5.2" fill="#fff" stroke="#ff0000" stroke-width="1.25"/>
<rect x="366.26" y="251.05" width="5.2" height="5.2" fill="#fff" stroke="#ff0000" stroke-width="1.25"/>
<rect x="360.39" y="251.05" width="5.2" height="5.2" fill="#fff" stroke="#ff0000" stroke-width="1.25"/>
<rect x="354.52" y="251.05" width="5.2" height="5.2" fill="#fff" stroke="#ff0000" stroke-width="1.25"/>
<rect x="348.65" y="251.05" width="5.2" height="5.2" fill="#fff" stroke="#ff0000" stroke-width="1.25"/>
<rect x="342.79" y="251.05" width="5.2" height="5.2" fill="#fff" stroke="#ff0000" stroke-width="1.25"/>
<rect x="336.92" y="251.05" width="5.2" height="5.2" fill="#fff" stroke="#ff0000" stroke-width="1.25"/>
<rect x="331.05" y="251.05" width="5.2" height="5.2" fill="#fff" stroke="#ff0000" stroke-width="1.25"/>
</g>
<g>
<polyline points="610,134.44 612.21,127.71 614.42,136.25 616.63,126.9 618.84,131.45 621.05,142 623.26,142.06 625.47,133.07 627.67,145 629.88,136.96 632.09,137.34 634.3,134.75 636.51,140 638.72,142.56 640.93,134.04 643.14,134.36 645.35,134.79 647.56,128.62 649.77,137 651.98,124.42 654.19,129.7 656.4,117.74 658.61,120.9 660.82,126.34 663.02,124.55 665.23,120.56 667.44,122.99 669.65,119.76 671.86,113.79 674.07,111.7 676.28,114.89 678.49,120.65 680.7,114.26 682.91,112.5 685.12,112.64 687.33,109.25 689.54,114.59 691.75,110.04 693.96,115.91 696.17,104.71 698.38,115.18 700.58,151 702.79,105.6 705,116.09 707.21,111.96 709.42,104.08 711.63,109.52 713.84,114.25 716.05,111.38 718.26,116.49 720.47,159 722.68,116.43 724.89,115.3 727.1,119.65 729.31,117.46 731.52,117.22 733.73,107.68 735.93,120.12 738.14,157 740.35,115.81 742.56,114.86 744.77,123.93 746.98,130 749.19,116.24 751.4,122.99 753.61,108.28 755.82,131 758.03,115.34 760.24,105.07 762.45,105.89 764.66,105.51 766.87,96.59 769.08,98.32 771.28,98.53 773.49,99.55 775.7,95.01 777.91,93.53 780.12,89.94 782.33,93.16 784.54,99.37 786.75,97.41" fill="none" stroke="#ff0000" stroke-width="1.3" stroke-linejoin="round"/>
<rect x="783.65" y="94.31" width="6.2" height="6.2" fill="#fff" stroke="#ff0000" stroke-width="1.1"/>
<rect x="781.44" y="96.27" width="6.2" height="6.2" fill="#fff" stroke="#ff0000" stroke-width="1.1"/>
<rect x="779.23" y="90.06" width="6.2" height="6.2" fill="#fff" stroke="#ff0000" stroke-width="1.1"/>
<rect x="777.02" y="86.84" width="6.2" height="6.2" fill="#fff" stroke="#ff0000" stroke-width="1.1"/>
<rect x="774.81" y="90.43" width="6.2" height="6.2" fill="#fff" stroke="#ff0000" stroke-width="1.1"/>
<rect x="772.6" y="91.91" width="6.2" height="6.2" fill="#fff" stroke="#ff0000" stroke-width="1.1"/>
<rect x="770.39" y="96.45" width="6.2" height="6.2" fill="#fff" stroke="#ff0000" stroke-width="1.1"/>
<rect x="768.18" y="95.43" width="6.2" height="6.2" fill="#fff" stroke="#ff0000" stroke-width="1.1"/>
<rect x="765.98" y="95.22" width="6.2" height="6.2" fill="#fff" stroke="#ff0000" stroke-width="1.1"/>
<rect x="763.77" y="93.49" width="6.2" height="6.2" fill="#fff" stroke="#ff0000" stroke-width="1.1"/>
<rect x="761.56" y="102.41" width="6.2" height="6.2" fill="#fff" stroke="#ff0000" stroke-width="1.1"/>
<rect x="759.35" y="102.79" width="6.2" height="6.2" fill="#fff" stroke="#ff0000" stroke-width="1.1"/>
<rect x="757.14" y="101.97" width="6.2" height="6.2" fill="#fff" stroke="#ff0000" stroke-width="1.1"/>
<rect x="754.93" y="112.24" width="6.2" height="6.2" fill="#fff" stroke="#ff0000" stroke-width="1.1"/>
<rect x="752.72" y="127.9" width="6.2" height="6.2" fill="#fff" stroke="#ff0000" stroke-width="1.1"/>
<rect x="750.51" y="105.18" width="6.2" height="6.2" fill="#fff" stroke="#ff0000" stroke-width="1.1"/>
<rect x="748.3" y="119.89" width="6.2" height="6.2" fill="#fff" stroke="#ff0000" stroke-width="1.1"/>
<rect x="746.09" y="113.14" width="6.2" height="6.2" fill="#fff" stroke="#ff0000" stroke-width="1.1"/>
<rect x="743.88" y="126.9" width="6.2" height="6.2" fill="#fff" stroke="#ff0000" stroke-width="1.1"/>
<rect x="741.67" y="120.83" width="6.2" height="6.2" fill="#fff" stroke="#ff0000" stroke-width="1.1"/>
<rect x="739.46" y="111.76" width="6.2" height="6.2" fill="#fff" stroke="#ff0000" stroke-width="1.1"/>
<rect x="737.25" y="112.71" width="6.2" height="6.2" fill="#fff" stroke="#ff0000" stroke-width="1.1"/>
<rect x="735.04" y="153.9" width="6.2" height="6.2" fill="#fff" stroke="#ff0000" stroke-width="1.1"/>
<rect x="732.83" y="117.02" width="6.2" height="6.2" fill="#fff" stroke="#ff0000" stroke-width="1.1"/>
<rect x="730.62" y="104.58" width="6.2" height="6.2" fill="#fff" stroke="#ff0000" stroke-width="1.1"/>
<rect x="728.42" y="114.12" width="6.2" height="6.2" fill="#fff" stroke="#ff0000" stroke-width="1.1"/>
<rect x="726.21" y="114.36" width="6.2" height="6.2" fill="#fff" stroke="#ff0000" stroke-width="1.1"/>
<rect x="724" y="116.55" width="6.2" height="6.2" fill="#fff" stroke="#ff0000" stroke-width="1.1"/>
<rect x="721.79" y="112.2" width="6.2" height="6.2" fill="#fff" stroke="#ff0000" stroke-width="1.1"/>
<rect x="719.58" y="113.33" width="6.2" height="6.2" fill="#fff" stroke="#ff0000" stroke-width="1.1"/>
<rect x="717.37" y="155.9" width="6.2" height="6.2" fill="#fff" stroke="#ff0000" stroke-width="1.1"/>
<rect x="715.16" y="113.39" width="6.2" height="6.2" fill="#fff" stroke="#ff0000" stroke-width="1.1"/>
<rect x="712.95" y="108.28" width="6.2" height="6.2" fill="#fff" stroke="#ff0000" stroke-width="1.1"/>
<rect x="710.74" y="111.15" width="6.2" height="6.2" fill="#fff" stroke="#ff0000" stroke-width="1.1"/>
<rect x="708.53" y="106.42" width="6.2" height="6.2" fill="#fff" stroke="#ff0000" stroke-width="1.1"/>
<rect x="706.32" y="100.98" width="6.2" height="6.2" fill="#fff" stroke="#ff0000" stroke-width="1.1"/>
<rect x="704.11" y="108.86" width="6.2" height="6.2" fill="#fff" stroke="#ff0000" stroke-width="1.1"/>
<rect x="701.9" y="112.99" width="6.2" height="6.2" fill="#fff" stroke="#ff0000" stroke-width="1.1"/>
<rect x="699.69" y="102.5" width="6.2" height="6.2" fill="#fff" stroke="#ff0000" stroke-width="1.1"/>
<rect x="697.48" y="147.9" width="6.2" height="6.2" fill="#fff" stroke="#ff0000" stroke-width="1.1"/>
<rect x="695.27" y="112.08" width="6.2" height="6.2" fill="#fff" stroke="#ff0000" stroke-width="1.1"/>
<rect x="693.07" y="101.61" width="6.2" height="6.2" fill="#fff" stroke="#ff0000" stroke-width="1.1"/>
<rect x="690.86" y="112.81" width="6.2" height="6.2" fill="#fff" stroke="#ff0000" stroke-width="1.1"/>
<rect x="688.65" y="106.94" width="6.2" height="6.2" fill="#fff" stroke="#ff0000" stroke-width="1.1"/>
<rect x="686.44" y="111.49" width="6.2" height="6.2" fill="#fff" stroke="#ff0000" stroke-width="1.1"/>
<rect x="684.23" y="106.15" width="6.2" height="6.2" fill="#fff" stroke="#ff0000" stroke-width="1.1"/>
<rect x="682.02" y="109.54" width="6.2" height="6.2" fill="#fff" stroke="#ff0000" stroke-width="1.1"/>
<rect x="679.81" y="109.4" width="6.2" height="6.2" fill="#fff" stroke="#ff0000" stroke-width="1.1"/>
<rect x="677.6" y="111.16" width="6.2" height="6.2" fill="#fff" stroke="#ff0000" stroke-width="1.1"/>
<rect x="675.39" y="117.55" width="6.2" height="6.2" fill="#fff" stroke="#ff0000" stroke-width="1.1"/>
<rect x="673.18" y="111.79" width="6.2" height="6.2" fill="#fff" stroke="#ff0000" stroke-width="1.1"/>
<rect x="670.97" y="108.6" width="6.2" height="6.2" fill="#fff" stroke="#ff0000" stroke-width="1.1"/>
<rect x="668.76" y="110.69" width="6.2" height="6.2" fill="#fff" stroke="#ff0000" stroke-width="1.1"/>
<rect x="666.55" y="116.66" width="6.2" height="6.2" fill="#fff" stroke="#ff0000" stroke-width="1.1"/>
<rect x="664.34" y="119.89" width="6.2" height="6.2" fill="#fff" stroke="#ff0000" stroke-width="1.1"/>
<rect x="662.13" y="117.46" width="6.2" height="6.2" fill="#fff" stroke="#ff0000" stroke-width="1.1"/>
<rect x="659.92" y="121.45" width="6.2" height="6.2" fill="#fff" stroke="#ff0000" stroke-width="1.1"/>
<rect x="657.72" y="123.24" width="6.2" height="6.2" fill="#fff" stroke="#ff0000" stroke-width="1.1"/>
<rect x="655.51" y="117.8" width="6.2" height="6.2" fill="#fff" stroke="#ff0000" stroke-width="1.1"/>
<rect x="653.3" y="114.64" width="6.2" height="6.2" fill="#fff" stroke="#ff0000" stroke-width="1.1"/>
<rect x="651.09" y="126.6" width="6.2" height="6.2" fill="#fff" stroke="#ff0000" stroke-width="1.1"/>
<rect x="648.88" y="121.32" width="6.2" height="6.2" fill="#fff" stroke="#ff0000" stroke-width="1.1"/>
<rect x="646.67" y="133.9" width="6.2" height="6.2" fill="#fff" stroke="#ff0000" stroke-width="1.1"/>
<rect x="644.46" y="125.52" width="6.2" height="6.2" fill="#fff" stroke="#ff0000" stroke-width="1.1"/>
<rect x="642.25" y="131.69" width="6.2" height="6.2" fill="#fff" stroke="#ff0000" stroke-width="1.1"/>
<rect x="640.04" y="131.26" width="6.2" height="6.2" fill="#fff" stroke="#ff0000" stroke-width="1.1"/>
<rect x="637.83" y="130.94" width="6.2" height="6.2" fill="#fff" stroke="#ff0000" stroke-width="1.1"/>
<rect x="635.62" y="139.46" width="6.2" height="6.2" fill="#fff" stroke="#ff0000" stroke-width="1.1"/>
<rect x="633.41" y="136.9" width="6.2" height="6.2" fill="#fff" stroke="#ff0000" stroke-width="1.1"/>
<rect x="631.2" y="131.65" width="6.2" height="6.2" fill="#fff" stroke="#ff0000" stroke-width="1.1"/>
<rect x="628.99" y="134.24" width="6.2" height="6.2" fill="#fff" stroke="#ff0000" stroke-width="1.1"/>
<rect x="626.78" y="133.86" width="6.2" height="6.2" fill="#fff" stroke="#ff0000" stroke-width="1.1"/>
<rect x="624.57" y="141.9" width="6.2" height="6.2" fill="#fff" stroke="#ff0000" stroke-width="1.1"/>
<rect x="622.37" y="129.97" width="6.2" height="6.2" fill="#fff" stroke="#ff0000" stroke-width="1.1"/>
<rect x="620.16" y="138.96" width="6.2" height="6.2" fill="#fff" stroke="#ff0000" stroke-width="1.1"/>
<rect x="617.95" y="138.9" width="6.2" height="6.2" fill="#fff" stroke="#ff0000" stroke-width="1.1"/>
<rect x="615.74" y="128.35" width="6.2" height="6.2" fill="#fff" stroke="#ff0000" stroke-width="1.1"/>
<rect x="613.53" y="123.8" width="6.2" height="6.2" fill="#fff" stroke="#ff0000" stroke-width="1.1"/>
<rect x="611.32" y="133.15" width="6.2" height="6.2" fill="#fff" stroke="#ff0000" stroke-width="1.1"/>
<rect x="609.11" y="124.61" width="6.2" height="6.2" fill="#fff" stroke="#ff0000" stroke-width="1.1"/>
<rect x="606.9" y="131.34" width="6.2" height="6.2" fill="#fff" stroke="#ff0000" stroke-width="1.1"/>
<polyline points="610,123.43 612.21,125.54 614.42,125.44 616.63,126 618.84,126.63 621.05,124.89 623.26,127.42 625.47,125.3 627.67,122.78 629.88,118.55 632.09,118.31 634.3,118.87 636.51,115.58 638.72,116.7 640.93,117.46 643.14,114.66 645.35,117.01 647.56,115.29 649.77,113.89 651.98,113.64 654.19,113.24 656.4,111.99 658.61,112.29 660.82,109.75 663.02,109.27 665.23,110.04 667.44,108.41 669.65,106.92 671.86,108.18 674.07,108.15 676.28,105.71 678.49,104.27 680.7,105.04 682.91,104.58 685.12,104.02 687.33,105.35 689.54,102.54 691.75,104.44 693.96,101.55 696.17,101.74 698.38,102.98 700.58,103.43 702.79,103.23 705,102.86 707.21,102.86 709.42,112 711.63,103.79 713.84,103.31 716.05,104.04 718.26,104.67 720.47,104.47 722.68,105.65 724.89,112 727.1,107.81 729.31,106.66 731.52,106.64 733.73,107.53 735.93,108.71 738.14,110.35 740.35,109.55 742.56,110.38 744.77,111.77 746.98,107.22 749.19,108.46 751.4,109.44 753.61,108.63 755.82,107.11 758.03,104.96 760.24,104.68 762.45,103.02 764.66,100.81 766.87,110 769.08,122 771.28,93.57 773.49,90.9 775.7,87.98 777.91,86.08 780.12,82.07 782.33,83.93 784.54,85.21 786.75,82.83" fill="none" stroke="#0000ff" stroke-width="1.3" stroke-linejoin="round"/>
<circle cx="786.75" cy="82.83" r="3.4" fill="#fff" stroke="#0000ff" stroke-width="1.1"/>
<circle cx="784.54" cy="85.21" r="3.4" fill="#fff" stroke="#0000ff" stroke-width="1.1"/>
<circle cx="782.33" cy="83.93" r="3.4" fill="#fff" stroke="#0000ff" stroke-width="1.1"/>
<circle cx="780.12" cy="82.07" r="3.4" fill="#fff" stroke="#0000ff" stroke-width="1.1"/>
<circle cx="777.91" cy="86.08" r="3.4" fill="#fff" stroke="#0000ff" stroke-width="1.1"/>
<circle cx="775.7" cy="87.98" r="3.4" fill="#fff" stroke="#0000ff" stroke-width="1.1"/>
<circle cx="773.49" cy="90.9" r="3.4" fill="#fff" stroke="#0000ff" stroke-width="1.1"/>
<circle cx="771.28" cy="93.57" r="3.4" fill="#fff" stroke="#0000ff" stroke-width="1.1"/>
<circle cx="769.08" cy="122" r="3.4" fill="#fff" stroke="#0000ff" stroke-width="1.1"/>
<circle cx="766.87" cy="110" r="3.4" fill="#fff" stroke="#0000ff" stroke-width="1.1"/>
<circle cx="764.66" cy="100.81" r="3.4" fill="#fff" stroke="#0000ff" stroke-width="1.1"/>
<circle cx="762.45" cy="103.02" r="3.4" fill="#fff" stroke="#0000ff" stroke-width="1.1"/>
<circle cx="760.24" cy="104.68" r="3.4" fill="#fff" stroke="#0000ff" stroke-width="1.1"/>
<circle cx="758.03" cy="104.96" r="3.4" fill="#fff" stroke="#0000ff" stroke-width="1.1"/>
<circle cx="755.82" cy="107.11" r="3.4" fill="#fff" stroke="#0000ff" stroke-width="1.1"/>
<circle cx="753.61" cy="108.63" r="3.4" fill="#fff" stroke="#0000ff" stroke-width="1.1"/>
<circle cx="751.4" cy="109.44" r="3.4" fill="#fff" stroke="#0000ff" stroke-width="1.1"/>
<circle cx="749.19" cy="108.46" r="3.4" fill="#fff" stroke="#0000ff" stroke-width="1.1"/>
<circle cx="746.98" cy="107.22" r="3.4" fill="#fff" stroke="#0000ff" stroke-width="1.1"/>
<circle cx="744.77" cy="111.77" r="3.4" fill="#fff" stroke="#0000ff" stroke-width="1.1"/>
<circle cx="742.56" cy="110.38" r="3.4" fill="#fff" stroke="#0000ff" stroke-width="1.1"/>
<circle cx="740.35" cy="109.55" r="3.4" fill="#fff" stroke="#0000ff" stroke-width="1.1"/>
<circle cx="738.14" cy="110.35" r="3.4" fill="#fff" stroke="#0000ff" stroke-width="1.1"/>
<circle cx="735.93" cy="108.71" r="3.4" fill="#fff" stroke="#0000ff" stroke-width="1.1"/>
<circle cx="733.73" cy="107.53" r="3.4" fill="#fff" stroke="#0000ff" stroke-width="1.1"/>
<circle cx="731.52" cy="106.64" r="3.4" fill="#fff" stroke="#0000ff" stroke-width="1.1"/>
<circle cx="729.31" cy="106.66" r="3.4" fill="#fff" stroke="#0000ff" stroke-width="1.1"/>
<circle cx="727.1" cy="107.81" r="3.4" fill="#fff" stroke="#0000ff" stroke-width="1.1"/>
<circle cx="724.89" cy="112" r="3.4" fill="#fff" stroke="#0000ff" stroke-width="1.1"/>
<circle cx="722.68" cy="105.65" r="3.4" fill="#fff" stroke="#0000ff" stroke-width="1.1"/>
<circle cx="720.47" cy="104.47" r="3.4" fill="#fff" stroke="#0000ff" stroke-width="1.1"/>
<circle cx="718.26" cy="104.67" r="3.4" fill="#fff" stroke="#0000ff" stroke-width="1.1"/>
<circle cx="716.05" cy="104.04" r="3.4" fill="#fff" stroke="#0000ff" stroke-width="1.1"/>
<circle cx="713.84" cy="103.31" r="3.4" fill="#fff" stroke="#0000ff" stroke-width="1.1"/>
<circle cx="711.63" cy="103.79" r="3.4" fill="#fff" stroke="#0000ff" stroke-width="1.1"/>
<circle cx="709.42" cy="112" r="3.4" fill="#fff" stroke="#0000ff" stroke-width="1.1"/>
<circle cx="707.21" cy="102.86" r="3.4" fill="#fff" stroke="#0000ff" stroke-width="1.1"/>
<circle cx="705" cy="102.86" r="3.4" fill="#fff" stroke="#0000ff" stroke-width="1.1"/>
<circle cx="702.79" cy="103.23" r="3.4" fill="#fff" stroke="#0000ff" stroke-width="1.1"/>
<circle cx="700.58" cy="103.43" r="3.4" fill="#fff" stroke="#0000ff" stroke-width="1.1"/>
<circle cx="698.38" cy="102.98" r="3.4" fill="#fff" stroke="#0000ff" stroke-width="1.1"/>
<circle cx="696.17" cy="101.74" r="3.4" fill="#fff" stroke="#0000ff" stroke-width="1.1"/>
<circle cx="693.96" cy="101.55" r="3.4" fill="#fff" stroke="#0000ff" stroke-width="1.1"/>
<circle cx="691.75" cy="104.44" r="3.4" fill="#fff" stroke="#0000ff" stroke-width="1.1"/>
<circle cx="689.54" cy="102.54" r="3.4" fill="#fff" stroke="#0000ff" stroke-width="1.1"/>
<circle cx="687.33" cy="105.35" r="3.4" fill="#fff" stroke="#0000ff" stroke-width="1.1"/>
<circle cx="685.12" cy="104.02" r="3.4" fill="#fff" stroke="#0000ff" stroke-width="1.1"/>
<circle cx="682.91" cy="104.58" r="3.4" fill="#fff" stroke="#0000ff" stroke-width="1.1"/>
<circle cx="680.7" cy="105.04" r="3.4" fill="#fff" stroke="#0000ff" stroke-width="1.1"/>
<circle cx="678.49" cy="104.27" r="3.4" fill="#fff" stroke="#0000ff" stroke-width="1.1"/>
<circle cx="676.28" cy="105.71" r="3.4" fill="#fff" stroke="#0000ff" stroke-width="1.1"/>
<circle cx="674.07" cy="108.15" r="3.4" fill="#fff" stroke="#0000ff" stroke-width="1.1"/>
<circle cx="671.86" cy="108.18" r="3.4" fill="#fff" stroke="#0000ff" stroke-width="1.1"/>
<circle cx="669.65" cy="106.92" r="3.4" fill="#fff" stroke="#0000ff" stroke-width="1.1"/>
<circle cx="667.44" cy="108.41" r="3.4" fill="#fff" stroke="#0000ff" stroke-width="1.1"/>
<circle cx="665.23" cy="110.04" r="3.4" fill="#fff" stroke="#0000ff" stroke-width="1.1"/>
<circle cx="663.02" cy="109.27" r="3.4" fill="#fff" stroke="#0000ff" stroke-width="1.1"/>
<circle cx="660.82" cy="109.75" r="3.4" fill="#fff" stroke="#0000ff" stroke-width="1.1"/>
<circle cx="658.61" cy="112.29" r="3.4" fill="#fff" stroke="#0000ff" stroke-width="1.1"/>
<circle cx="656.4" cy="111.99" r="3.4" fill="#fff" stroke="#0000ff" stroke-width="1.1"/>
<circle cx="654.19" cy="113.24" r="3.4" fill="#fff" stroke="#0000ff" stroke-width="1.1"/>
<circle cx="651.98" cy="113.64" r="3.4" fill="#fff" stroke="#0000ff" stroke-width="1.1"/>
<circle cx="649.77" cy="113.89" r="3.4" fill="#fff" stroke="#0000ff" stroke-width="1.1"/>
<circle cx="647.56" cy="115.29" r="3.4" fill="#fff" stroke="#0000ff" stroke-width="1.1"/>
<circle cx="645.35" cy="117.01" r="3.4" fill="#fff" stroke="#0000ff" stroke-width="1.1"/>
<circle cx="643.14" cy="114.66" r="3.4" fill="#fff" stroke="#0000ff" stroke-width="1.1"/>
<circle cx="640.93" cy="117.46" r="3.4" fill="#fff" stroke="#0000ff" stroke-width="1.1"/>
<circle cx="638.72" cy="116.7" r="3.4" fill="#fff" stroke="#0000ff" stroke-width="1.1"/>
<circle cx="636.51" cy="115.58" r="3.4" fill="#fff" stroke="#0000ff" stroke-width="1.1"/>
<circle cx="634.3" cy="118.87" r="3.4" fill="#fff" stroke="#0000ff" stroke-width="1.1"/>
<circle cx="632.09" cy="118.31" r="3.4" fill="#fff" stroke="#0000ff" stroke-width="1.1"/>
<circle cx="629.88" cy="118.55" r="3.4" fill="#fff" stroke="#0000ff" stroke-width="1.1"/>
<circle cx="627.67" cy="122.78" r="3.4" fill="#fff" stroke="#0000ff" stroke-width="1.1"/>
<circle cx="625.47" cy="125.3" r="3.4" fill="#fff" stroke="#0000ff" stroke-width="1.1"/>
<circle cx="623.26" cy="127.42" r="3.4" fill="#fff" stroke="#0000ff" stroke-width="1.1"/>
<circle cx="621.05" cy="124.89" r="3.4" fill="#fff" stroke="#0000ff" stroke-width="1.1"/>
<circle cx="618.84" cy="126.63" r="3.4" fill="#fff" stroke="#0000ff" stroke-width="1.1"/>
<circle cx="616.63" cy="126" r="3.4" fill="#fff" stroke="#0000ff" stroke-width="1.1"/>
<circle cx="614.42" cy="125.44" r="3.4" fill="#fff" stroke="#0000ff" stroke-width="1.1"/>
<circle cx="612.21" cy="125.54" r="3.4" fill="#fff" stroke="#0000ff" stroke-width="1.1"/>
<circle cx="610" cy="123.43" r="3.4" fill="#fff" stroke="#0000ff" stroke-width="1.1"/>
<polyline points="610,192.5 612.21,101.58 614.42,101.11 616.63,105.09 618.84,98.59 621.05,106.6 623.26,109.34 625.47,114.3 627.67,117.49 629.88,107.86 632.09,121.04 634.3,115.4 636.51,123.54 638.72,118.21 640.93,123.63 643.14,126.9 645.35,123.06 647.56,124.24 649.77,126.18 651.98,124.31 654.19,123.69 656.4,128.59 658.61,127.14 660.82,122.91 663.02,131.64 665.23,119.43 667.44,125 669.65,120.83 671.86,121.43 674.07,122.58 676.28,120.53 678.49,134 680.7,113.98 682.91,113.38 685.12,119.1 687.33,146 689.54,112.72 691.75,110.55 693.96,117.97 696.17,115.76 698.38,117.52 700.58,110.19 702.79,113.06 705,109.74 707.21,115.61 709.42,157 711.63,111.07 713.84,118.66 716.05,117.29 718.26,114.3 720.47,109.56 722.68,151 724.89,116.67 727.1,115.9 729.31,119.63 731.52,120.43 733.73,124.5 735.93,138 738.14,125.07 740.35,126.91 742.56,127.54 744.77,123.36 746.98,122.37 749.19,128.31 751.4,126.2 753.61,126.73 755.82,145 758.03,126.37 760.24,120.7 762.45,126.95 764.66,129.6 766.87,131.98 769.08,142.4 771.28,150 773.49,168 775.7,197 777.91,188.5 780.12,141.4 782.33,124.7 784.54,119.43 786.75,114.47" fill="none" stroke="#ff0000" stroke-width="1.4" stroke-linejoin="round"/>
<rect x="606.9" y="189.4" width="6.2" height="6.2" fill="#ff0000" stroke="#808080" stroke-width="1"/>
<rect x="609.11" y="98.48" width="6.2" height="6.2" fill="#ff0000" stroke="#808080" stroke-width="1"/>
<rect x="611.32" y="98.01" width="6.2" height="6.2" fill="#ff0000" stroke="#808080" stroke-width="1"/>
<rect x="613.53" y="101.99" width="6.2" height="6.2" fill="#ff0000" stroke="#808080" stroke-width="1"/>
<rect x="615.74" y="95.49" width="6.2" height="6.2" fill="#ff0000" stroke="#808080" stroke-width="1"/>
<rect x="617.95" y="103.5" width="6.2" height="6.2" fill="#ff0000" stroke="#808080" stroke-width="1"/>
<rect x="620.16" y="106.24" width="6.2" height="6.2" fill="#ff0000" stroke="#808080" stroke-width="1"/>
<rect x="622.37" y="111.2" width="6.2" height="6.2" fill="#ff0000" stroke="#808080" stroke-width="1"/>
<rect x="624.57" y="114.39" width="6.2" height="6.2" fill="#ff0000" stroke="#808080" stroke-width="1"/>
<rect x="626.78" y="104.76" width="6.2" height="6.2" fill="#ff0000" stroke="#808080" stroke-width="1"/>
<rect x="628.99" y="117.94" width="6.2" height="6.2" fill="#ff0000" stroke="#808080" stroke-width="1"/>
<rect x="631.2" y="112.3" width="6.2" height="6.2" fill="#ff0000" stroke="#808080" stroke-width="1"/>
<rect x="633.41" y="120.44" width="6.2" height="6.2" fill="#ff0000" stroke="#808080" stroke-width="1"/>
<rect x="635.62" y="115.11" width="6.2" height="6.2" fill="#ff0000" stroke="#808080" stroke-width="1"/>
<rect x="637.83" y="120.53" width="6.2" height="6.2" fill="#ff0000" stroke="#808080" stroke-width="1"/>
<rect x="640.04" y="123.8" width="6.2" height="6.2" fill="#ff0000" stroke="#808080" stroke-width="1"/>
<rect x="642.25" y="119.96" width="6.2" height="6.2" fill="#ff0000" stroke="#808080" stroke-width="1"/>
<rect x="644.46" y="121.14" width="6.2" height="6.2" fill="#ff0000" stroke="#808080" stroke-width="1"/>
<rect x="646.67" y="123.08" width="6.2" height="6.2" fill="#ff0000" stroke="#808080" stroke-width="1"/>
<rect x="648.88" y="121.21" width="6.2" height="6.2" fill="#ff0000" stroke="#808080" stroke-width="1"/>
<rect x="651.09" y="120.59" width="6.2" height="6.2" fill="#ff0000" stroke="#808080" stroke-width="1"/>
<rect x="653.3" y="125.49" width="6.2" height="6.2" fill="#ff0000" stroke="#808080" stroke-width="1"/>
<rect x="655.51" y="124.04" width="6.2" height="6.2" fill="#ff0000" stroke="#808080" stroke-width="1"/>
<rect x="657.72" y="119.81" width="6.2" height="6.2" fill="#ff0000" stroke="#808080" stroke-width="1"/>
<rect x="659.92" y="128.54" width="6.2" height="6.2" fill="#ff0000" stroke="#808080" stroke-width="1"/>
<rect x="662.13" y="116.33" width="6.2" height="6.2" fill="#ff0000" stroke="#808080" stroke-width="1"/>
<rect x="664.34" y="121.9" width="6.2" height="6.2" fill="#ff0000" stroke="#808080" stroke-width="1"/>
<rect x="666.55" y="117.73" width="6.2" height="6.2" fill="#ff0000" stroke="#808080" stroke-width="1"/>
<rect x="668.76" y="118.33" width="6.2" height="6.2" fill="#ff0000" stroke="#808080" stroke-width="1"/>
<rect x="670.97" y="119.48" width="6.2" height="6.2" fill="#ff0000" stroke="#808080" stroke-width="1"/>
<rect x="673.18" y="117.43" width="6.2" height="6.2" fill="#ff0000" stroke="#808080" stroke-width="1"/>
<rect x="675.39" y="130.9" width="6.2" height="6.2" fill="#ff0000" stroke="#808080" stroke-width="1"/>
<rect x="677.6" y="110.88" width="6.2" height="6.2" fill="#ff0000" stroke="#808080" stroke-width="1"/>
<rect x="679.81" y="110.28" width="6.2" height="6.2" fill="#ff0000" stroke="#808080" stroke-width="1"/>
<rect x="682.02" y="116" width="6.2" height="6.2" fill="#ff0000" stroke="#808080" stroke-width="1"/>
<rect x="684.23" y="142.9" width="6.2" height="6.2" fill="#ff0000" stroke="#808080" stroke-width="1"/>
<rect x="686.44" y="109.62" width="6.2" height="6.2" fill="#ff0000" stroke="#808080" stroke-width="1"/>
<rect x="688.65" y="107.45" width="6.2" height="6.2" fill="#ff0000" stroke="#808080" stroke-width="1"/>
<rect x="690.86" y="114.87" width="6.2" height="6.2" fill="#ff0000" stroke="#808080" stroke-width="1"/>
<rect x="693.07" y="112.66" width="6.2" height="6.2" fill="#ff0000" stroke="#808080" stroke-width="1"/>
<rect x="695.27" y="114.42" width="6.2" height="6.2" fill="#ff0000" stroke="#808080" stroke-width="1"/>
<rect x="697.48" y="107.09" width="6.2" height="6.2" fill="#ff0000" stroke="#808080" stroke-width="1"/>
<rect x="699.69" y="109.96" width="6.2" height="6.2" fill="#ff0000" stroke="#808080" stroke-width="1"/>
<rect x="701.9" y="106.64" width="6.2" height="6.2" fill="#ff0000" stroke="#808080" stroke-width="1"/>
<rect x="704.11" y="112.51" width="6.2" height="6.2" fill="#ff0000" stroke="#808080" stroke-width="1"/>
<rect x="706.32" y="153.9" width="6.2" height="6.2" fill="#ff0000" stroke="#808080" stroke-width="1"/>
<rect x="708.53" y="107.97" width="6.2" height="6.2" fill="#ff0000" stroke="#808080" stroke-width="1"/>
<rect x="710.74" y="115.56" width="6.2" height="6.2" fill="#ff0000" stroke="#808080" stroke-width="1"/>
<rect x="712.95" y="114.19" width="6.2" height="6.2" fill="#ff0000" stroke="#808080" stroke-width="1"/>
<rect x="715.16" y="111.2" width="6.2" height="6.2" fill="#ff0000" stroke="#808080" stroke-width="1"/>
<rect x="717.37" y="106.46" width="6.2" height="6.2" fill="#ff0000" stroke="#808080" stroke-width="1"/>
<rect x="719.58" y="147.9" width="6.2" height="6.2" fill="#ff0000" stroke="#808080" stroke-width="1"/>
<rect x="721.79" y="113.57" width="6.2" height="6.2" fill="#ff0000" stroke="#808080" stroke-width="1"/>
<rect x="724" y="112.8" width="6.2" height="6.2" fill="#ff0000" stroke="#808080" stroke-width="1"/>
<rect x="726.21" y="116.53" width="6.2" height="6.2" fill="#ff0000" stroke="#808080" stroke-width="1"/>
<rect x="728.42" y="117.33" width="6.2" height="6.2" fill="#ff0000" stroke="#808080" stroke-width="1"/>
<rect x="730.62" y="121.4" width="6.2" height="6.2" fill="#ff0000" stroke="#808080" stroke-width="1"/>
<rect x="732.83" y="134.9" width="6.2" height="6.2" fill="#ff0000" stroke="#808080" stroke-width="1"/>
<rect x="735.04" y="121.97" width="6.2" height="6.2" fill="#ff0000" stroke="#808080" stroke-width="1"/>
<rect x="737.25" y="123.81" width="6.2" height="6.2" fill="#ff0000" stroke="#808080" stroke-width="1"/>
<rect x="739.46" y="124.44" width="6.2" height="6.2" fill="#ff0000" stroke="#808080" stroke-width="1"/>
<rect x="741.67" y="120.26" width="6.2" height="6.2" fill="#ff0000" stroke="#808080" stroke-width="1"/>
<rect x="743.88" y="119.27" width="6.2" height="6.2" fill="#ff0000" stroke="#808080" stroke-width="1"/>
<rect x="746.09" y="125.21" width="6.2" height="6.2" fill="#ff0000" stroke="#808080" stroke-width="1"/>
<rect x="748.3" y="123.1" width="6.2" height="6.2" fill="#ff0000" stroke="#808080" stroke-width="1"/>
<rect x="750.51" y="123.63" width="6.2" height="6.2" fill="#ff0000" stroke="#808080" stroke-width="1"/>
<rect x="752.72" y="141.9" width="6.2" height="6.2" fill="#ff0000" stroke="#808080" stroke-width="1"/>
<rect x="754.93" y="123.27" width="6.2" height="6.2" fill="#ff0000" stroke="#808080" stroke-width="1"/>
<rect x="757.14" y="117.6" width="6.2" height="6.2" fill="#ff0000" stroke="#808080" stroke-width="1"/>
<rect x="759.35" y="123.85" width="6.2" height="6.2" fill="#ff0000" stroke="#808080" stroke-width="1"/>
<rect x="761.56" y="126.5" width="6.2" height="6.2" fill="#ff0000" stroke="#808080" stroke-width="1"/>
<rect x="763.77" y="128.88" width="6.2" height="6.2" fill="#ff0000" stroke="#808080" stroke-width="1"/>
<rect x="765.98" y="139.3" width="6.2" height="6.2" fill="#ff0000" stroke="#808080" stroke-width="1"/>
<rect x="768.18" y="146.9" width="6.2" height="6.2" fill="#ff0000" stroke="#808080" stroke-width="1"/>
<rect x="770.39" y="164.9" width="6.2" height="6.2" fill="#ff0000" stroke="#808080" stroke-width="1"/>
<rect x="772.6" y="193.9" width="6.2" height="6.2" fill="#ff0000" stroke="#808080" stroke-width="1"/>
<rect x="774.81" y="185.4" width="6.2" height="6.2" fill="#ff0000" stroke="#808080" stroke-width="1"/>
<rect x="777.02" y="138.3" width="6.2" height="6.2" fill="#ff0000" stroke="#808080" stroke-width="1"/>
<rect x="779.23" y="121.6" width="6.2" height="6.2" fill="#ff0000" stroke="#808080" stroke-width="1"/>
<rect x="781.44" y="116.33" width="6.2" height="6.2" fill="#ff0000" stroke="#808080" stroke-width="1"/>
<rect x="783.65" y="111.37" width="6.2" height="6.2" fill="#ff0000" stroke="#808080" stroke-width="1"/>
<polyline points="610,185 612.21,115.5 614.42,103.24 616.63,102.95 618.84,104 621.05,107.74 623.26,112.2 625.47,114.12 627.67,116.85 629.88,117.31 632.09,118.83 634.3,120.04 636.51,119.09 638.72,123.13 640.93,122.89 643.14,123.04 645.35,120.28 647.56,120.22 649.77,121.08 651.98,121.12 654.19,121.47 656.4,120.31 658.61,120.03 660.82,117.2 663.02,117.04 665.23,115.89 667.44,113.35 669.65,115.28 671.86,112.66 674.07,112.46 676.28,109.15 678.49,108.06 680.7,107.68 682.91,107.2 685.12,107.52 687.33,106.55 689.54,124.4 691.75,167 693.96,104.31 696.17,98.2 698.38,103.49 700.58,104.82 702.79,105.14 705,102.82 707.21,105.06 709.42,106.99 711.63,103 713.84,105.56 716.05,123 718.26,105.91 720.47,108.31 722.68,108.36 724.89,107.38 727.1,129 729.31,111.91 731.52,113.27 733.73,115.02 735.93,114.78 738.14,115.64 740.35,114.97 742.56,118.59 744.77,118.17 746.98,119.58 749.19,119.66 751.4,121.02 753.61,122.3 755.82,125.18 758.03,121.3 760.24,122.58 762.45,125.7 764.66,149.3 766.87,135.5 769.08,151.3 771.28,157.2 773.49,221.4 775.7,165 777.91,134 780.12,128.7 782.33,119.8 784.54,112 786.75,103" fill="none" stroke="#0000ff" stroke-width="1.6" stroke-linejoin="round"/>
<circle cx="610" cy="185" r="3.5" fill="#0000ff" stroke="#808080" stroke-width="1.2"/>
<circle cx="612.21" cy="115.5" r="3.5" fill="#0000ff" stroke="#808080" stroke-width="1.2"/>
<circle cx="614.42" cy="103.24" r="3.5" fill="#0000ff" stroke="#808080" stroke-width="1.2"/>
<circle cx="616.63" cy="102.95" r="3.5" fill="#0000ff" stroke="#808080" stroke-width="1.2"/>
<circle cx="618.84" cy="104" r="3.5" fill="#0000ff" stroke="#808080" stroke-width="1.2"/>
<circle cx="621.05" cy="107.74" r="3.5" fill="#0000ff" stroke="#808080" stroke-width="1.2"/>
<circle cx="623.26" cy="112.2" r="3.5" fill="#0000ff" stroke="#808080" stroke-width="1.2"/>
<circle cx="625.47" cy="114.12" r="3.5" fill="#0000ff" stroke="#808080" stroke-width="1.2"/>
<circle cx="627.67" cy="116.85" r="3.5" fill="#0000ff" stroke="#808080" stroke-width="1.2"/>
<circle cx="629.88" cy="117.31" r="3.5" fill="#0000ff" stroke="#808080" stroke-width="1.2"/>
<circle cx="632.09" cy="118.83" r="3.5" fill="#0000ff" stroke="#808080" stroke-width="1.2"/>
<circle cx="634.3" cy="120.04" r="3.5" fill="#0000ff" stroke="#808080" stroke-width="1.2"/>
<circle cx="636.51" cy="119.09" r="3.5" fill="#0000ff" stroke="#808080" stroke-width="1.2"/>
<circle cx="638.72" cy="123.13" r="3.5" fill="#0000ff" stroke="#808080" stroke-width="1.2"/>
<circle cx="640.93" cy="122.89" r="3.5" fill="#0000ff" stroke="#808080" stroke-width="1.2"/>
<circle cx="643.14" cy="123.04" r="3.5" fill="#0000ff" stroke="#808080" stroke-width="1.2"/>
<circle cx="645.35" cy="120.28" r="3.5" fill="#0000ff" stroke="#808080" stroke-width="1.2"/>
<circle cx="647.56" cy="120.22" r="3.5" fill="#0000ff" stroke="#808080" stroke-width="1.2"/>
<circle cx="649.77" cy="121.08" r="3.5" fill="#0000ff" stroke="#808080" stroke-width="1.2"/>
<circle cx="651.98" cy="121.12" r="3.5" fill="#0000ff" stroke="#808080" stroke-width="1.2"/>
<circle cx="654.19" cy="121.47" r="3.5" fill="#0000ff" stroke="#808080" stroke-width="1.2"/>
<circle cx="656.4" cy="120.31" r="3.5" fill="#0000ff" stroke="#808080" stroke-width="1.2"/>
<circle cx="658.61" cy="120.03" r="3.5" fill="#0000ff" stroke="#808080" stroke-width="1.2"/>
<circle cx="660.82" cy="117.2" r="3.5" fill="#0000ff" stroke="#808080" stroke-width="1.2"/>
<circle cx="663.02" cy="117.04" r="3.5" fill="#0000ff" stroke="#808080" stroke-width="1.2"/>
<circle cx="665.23" cy="115.89" r="3.5" fill="#0000ff" stroke="#808080" stroke-width="1.2"/>
<circle cx="667.44" cy="113.35" r="3.5" fill="#0000ff" stroke="#808080" stroke-width="1.2"/>
<circle cx="669.65" cy="115.28" r="3.5" fill="#0000ff" stroke="#808080" stroke-width="1.2"/>
<circle cx="671.86" cy="112.66" r="3.5" fill="#0000ff" stroke="#808080" stroke-width="1.2"/>
<circle cx="674.07" cy="112.46" r="3.5" fill="#0000ff" stroke="#808080" stroke-width="1.2"/>
<circle cx="676.28" cy="109.15" r="3.5" fill="#0000ff" stroke="#808080" stroke-width="1.2"/>
<circle cx="678.49" cy="108.06" r="3.5" fill="#0000ff" stroke="#808080" stroke-width="1.2"/>
<circle cx="680.7" cy="107.68" r="3.5" fill="#0000ff" stroke="#808080" stroke-width="1.2"/>
<circle cx="682.91" cy="107.2" r="3.5" fill="#0000ff" stroke="#808080" stroke-width="1.2"/>
<circle cx="685.12" cy="107.52" r="3.5" fill="#0000ff" stroke="#808080" stroke-width="1.2"/>
<circle cx="687.33" cy="106.55" r="3.5" fill="#0000ff" stroke="#808080" stroke-width="1.2"/>
<circle cx="689.54" cy="124.4" r="3.5" fill="#0000ff" stroke="#808080" stroke-width="1.2"/>
<circle cx="691.75" cy="167" r="3.5" fill="#0000ff" stroke="#808080" stroke-width="1.2"/>
<circle cx="693.96" cy="104.31" r="3.5" fill="#0000ff" stroke="#808080" stroke-width="1.2"/>
<circle cx="696.17" cy="98.2" r="3.5" fill="#0000ff" stroke="#808080" stroke-width="1.2"/>
<circle cx="698.38" cy="103.49" r="3.5" fill="#0000ff" stroke="#808080" stroke-width="1.2"/>
<circle cx="700.58" cy="104.82" r="3.5" fill="#0000ff" stroke="#808080" stroke-width="1.2"/>
<circle cx="702.79" cy="105.14" r="3.5" fill="#0000ff" stroke="#808080" stroke-width="1.2"/>
<circle cx="705" cy="102.82" r="3.5" fill="#0000ff" stroke="#808080" stroke-width="1.2"/>
<circle cx="707.21" cy="105.06" r="3.5" fill="#0000ff" stroke="#808080" stroke-width="1.2"/>
<circle cx="709.42" cy="106.99" r="3.5" fill="#0000ff" stroke="#808080" stroke-width="1.2"/>
<circle cx="711.63" cy="103" r="3.5" fill="#0000ff" stroke="#808080" stroke-width="1.2"/>
<circle cx="713.84" cy="105.56" r="3.5" fill="#0000ff" stroke="#808080" stroke-width="1.2"/>
<circle cx="716.05" cy="123" r="3.5" fill="#0000ff" stroke="#808080" stroke-width="1.2"/>
<circle cx="718.26" cy="105.91" r="3.5" fill="#0000ff" stroke="#808080" stroke-width="1.2"/>
<circle cx="720.47" cy="108.31" r="3.5" fill="#0000ff" stroke="#808080" stroke-width="1.2"/>
<circle cx="722.68" cy="108.36" r="3.5" fill="#0000ff" stroke="#808080" stroke-width="1.2"/>
<circle cx="724.89" cy="107.38" r="3.5" fill="#0000ff" stroke="#808080" stroke-width="1.2"/>
<circle cx="727.1" cy="129" r="3.5" fill="#0000ff" stroke="#808080" stroke-width="1.2"/>
<circle cx="729.31" cy="111.91" r="3.5" fill="#0000ff" stroke="#808080" stroke-width="1.2"/>
<circle cx="731.52" cy="113.27" r="3.5" fill="#0000ff" stroke="#808080" stroke-width="1.2"/>
<circle cx="733.73" cy="115.02" r="3.5" fill="#0000ff" stroke="#808080" stroke-width="1.2"/>
<circle cx="735.93" cy="114.78" r="3.5" fill="#0000ff" stroke="#808080" stroke-width="1.2"/>
<circle cx="738.14" cy="115.64" r="3.5" fill="#0000ff" stroke="#808080" stroke-width="1.2"/>
<circle cx="740.35" cy="114.97" r="3.5" fill="#0000ff" stroke="#808080" stroke-width="1.2"/>
<circle cx="742.56" cy="118.59" r="3.5" fill="#0000ff" stroke="#808080" stroke-width="1.2"/>
<circle cx="744.77" cy="118.17" r="3.5" fill="#0000ff" stroke="#808080" stroke-width="1.2"/>
<circle cx="746.98" cy="119.58" r="3.5" fill="#0000ff" stroke="#808080" stroke-width="1.2"/>
<circle cx="749.19" cy="119.66" r="3.5" fill="#0000ff" stroke="#808080" stroke-width="1.2"/>
<circle cx="751.4" cy="121.02" r="3.5" fill="#0000ff" stroke="#808080" stroke-width="1.2"/>
<circle cx="753.61" cy="122.3" r="3.5" fill="#0000ff" stroke="#808080" stroke-width="1.2"/>
<circle cx="755.82" cy="125.18" r="3.5" fill="#0000ff" stroke="#808080" stroke-width="1.2"/>
<circle cx="758.03" cy="121.3" r="3.5" fill="#0000ff" stroke="#808080" stroke-width="1.2"/>
<circle cx="760.24" cy="122.58" r="3.5" fill="#0000ff" stroke="#808080" stroke-width="1.2"/>
<circle cx="762.45" cy="125.7" r="3.5" fill="#0000ff" stroke="#808080" stroke-width="1.2"/>
<circle cx="764.66" cy="149.3" r="3.5" fill="#0000ff" stroke="#808080" stroke-width="1.2"/>
<circle cx="766.87" cy="135.5" r="3.5" fill="#0000ff" stroke="#808080" stroke-width="1.2"/>
<circle cx="769.08" cy="151.3" r="3.5" fill="#0000ff" stroke="#808080" stroke-width="1.2"/>
<circle cx="771.28" cy="157.2" r="3.5" fill="#0000ff" stroke="#808080" stroke-width="1.2"/>
<circle cx="773.49" cy="221.4" r="3.5" fill="#0000ff" stroke="#808080" stroke-width="1.2"/>
<circle cx="775.7" cy="165" r="3.5" fill="#0000ff" stroke="#808080" stroke-width="1.2"/>
<circle cx="777.91" cy="134" r="3.5" fill="#0000ff" stroke="#808080" stroke-width="1.2"/>
<circle cx="780.12" cy="128.7" r="3.5" fill="#0000ff" stroke="#808080" stroke-width="1.2"/>
<circle cx="782.33" cy="119.8" r="3.5" fill="#0000ff" stroke="#808080" stroke-width="1.2"/>
<circle cx="784.54" cy="112" r="3.5" fill="#0000ff" stroke="#808080" stroke-width="1.2"/>
<circle cx="786.75" cy="103" r="3.5" fill="#0000ff" stroke="#808080" stroke-width="1.2"/>
</g>
<text id="t1" x="0.6" y="15" font-size="20" font-weight="bold" text-anchor="start">a</text>
<text id="t2" x="279.6" y="17.3" font-size="20" font-weight="bold" text-anchor="start">b</text>
<text id="t3" x="543.8" y="17.5" font-size="21" font-weight="bold" text-anchor="start">c</text>
<text id="t4" x="55.2" y="15.25" font-size="18" font-weight="bold" text-anchor="end">10<tspan font-size="12" dy="-7.2">-4</tspan></text>
<text id="t5" x="55.2" y="64.68" font-size="18" font-weight="bold" text-anchor="end">10<tspan font-size="12" dy="-7.2">-5</tspan></text>
<text id="t6" x="55.2" y="114.11" font-size="18" font-weight="bold" text-anchor="end">10<tspan font-size="12" dy="-7.2">-6</tspan></text>
<text id="t7" x="55.2" y="163.54" font-size="18" font-weight="bold" text-anchor="end">10<tspan font-size="12" dy="-7.2">-7</tspan></text>
<text id="t8" x="55.2" y="212.97" font-size="18" font-weight="bold" text-anchor="end">10<tspan font-size="12" dy="-7.2">-8</tspan></text>
<text id="t9" x="55.2" y="262.4" font-size="18" font-weight="bold" text-anchor="end">10<tspan font-size="12" dy="-7.2">-9</tspan></text>
<text id="t10" x="600.8" y="51.61" font-size="18" font-weight="bold" text-anchor="end">10<tspan font-size="12" dy="-7">-5</tspan></text>
<text id="t11" x="600.8" y="104.21" font-size="18" font-weight="bold" text-anchor="end">10<tspan font-size="12" dy="-7">-6</tspan></text>
<text id="t12" x="600.8" y="156.81" font-size="18" font-weight="bold" text-anchor="end">10<tspan font-size="12" dy="-7">-7</tspan></text>
<text id="t13" x="600.8" y="209.4" font-size="18" font-weight="bold" text-anchor="end">10<tspan font-size="12" dy="-7">-8</tspan></text>
<text id="t14" x="600.8" y="262" font-size="18" font-weight="bold" text-anchor="end">10<tspan font-size="12" dy="-7">-9</tspan></text>
<text id="t15" x="324.6" y="262.5" font-size="18" font-weight="bold" text-anchor="end">0</text>
<text id="t16" x="324.6" y="200.71" font-size="18" font-weight="bold" text-anchor="end">10</text>
<text id="t17" x="324.6" y="138.03" font-size="18" font-weight="bold" text-anchor="end">20</text>
<text id="t18" x="324.6" y="75.84" font-size="18" font-weight="bold" text-anchor="end">30</text>
<text id="t19" x="324.6" y="14.05" font-size="18" font-weight="bold" text-anchor="end">40</text>
<text id="t20" x="64.55" y="274.7" font-size="17" font-weight="bold" text-anchor="middle">-1.0</text>
<text id="t21" x="609.7" y="274.7" font-size="17" font-weight="bold" text-anchor="middle">-1.0</text>
<text id="t22" x="108.77" y="274.7" font-size="17" font-weight="bold" text-anchor="middle">-0.5</text>
<text id="t23" x="653.89" y="274.7" font-size="17" font-weight="bold" text-anchor="middle">-0.5</text>
<text id="t24" x="153" y="274.7" font-size="17" font-weight="bold" text-anchor="middle">0.0</text>
<text id="t25" x="698.08" y="274.7" font-size="17" font-weight="bold" text-anchor="middle">0.0</text>
<text id="t26" x="197.22" y="274.7" font-size="17" font-weight="bold" text-anchor="middle">0.5</text>
<text id="t27" x="742.26" y="274.7" font-size="17" font-weight="bold" text-anchor="middle">0.5</text>
<text id="t28" x="241.45" y="274.7" font-size="17" font-weight="bold" text-anchor="middle">1.0</text>
<text id="t29" x="786.45" y="274.7" font-size="17" font-weight="bold" text-anchor="middle">1.0</text>
<text id="t30" x="333.35" y="277.5" font-size="17" font-weight="bold" text-anchor="middle">-1.5</text>
<text id="t31" x="392.03" y="277.5" font-size="17" font-weight="bold" text-anchor="middle">-1.0</text>
<text id="t32" x="450.72" y="277.5" font-size="17" font-weight="bold" text-anchor="middle">-0.5</text>
<text id="t33" x="509.4" y="277.5" font-size="17" font-weight="bold" text-anchor="middle">0.0</text>
<text id="t34" x="73.6" y="298.2" font-size="17" font-weight="bold" text-anchor="start" textLength="158.7" lengthAdjust="spacingAndGlyphs">Gate Voltage <tspan font-style="italic">V</tspan><tspan font-size="12.24" dy="4.8">GS</tspan><tspan dy="-4.8"> (V)</tspan></text>
<text id="t35" x="338.3" y="300" font-size="17" font-weight="bold" text-anchor="start" textLength="165.4" lengthAdjust="spacingAndGlyphs">Drain Voltage <tspan font-style="italic">V</tspan><tspan font-size="12.24" dy="4.8">DS</tspan><tspan dy="-4.8"> (V)</tspan></text>
<text id="t36" x="619" y="297.3" font-size="17" font-weight="bold" text-anchor="start" textLength="158.4" lengthAdjust="spacingAndGlyphs">Gate Voltage <tspan font-style="italic">V</tspan><tspan font-size="12.24" dy="4.8">GS</tspan><tspan dy="-4.8"> (V)</tspan></text>
<text id="t37" transform="translate(12.9,131.65) rotate(-90)" x="0" y="0" font-size="17" font-weight="bold" text-anchor="middle" textLength="194.7" lengthAdjust="spacingAndGlyphs">Drain Current <tspan font-style="italic">I</tspan><tspan font-size="12" dy="4.5">DS</tspan><tspan dy="-4.5"> (A/&#956;m)</tspan></text>
<text id="t38" transform="translate(291,128.5) rotate(-90)" x="0" y="0" font-size="17" font-weight="bold" text-anchor="middle" textLength="199.4" lengthAdjust="spacingAndGlyphs">Drain Current <tspan font-style="italic">I</tspan><tspan font-size="12" dy="4.5">DS</tspan><tspan dy="-4.5"> (A/&#956;m)</tspan></text>
<text id="t39" transform="translate(557,132) rotate(-90)" x="0" y="0" font-size="17" font-weight="bold" text-anchor="middle" textLength="187" lengthAdjust="spacingAndGlyphs">Gate Leakage <tspan font-style="italic">I</tspan><tspan font-size="12" dy="4.5">G</tspan><tspan dy="-4.5"> (A/cm</tspan><tspan font-size="11" dy="-7">2</tspan><tspan dy="7">)</tspan></text>
<text id="t40" x="70.8" y="23.6" font-size="14.4" font-weight="bold" text-anchor="start">Solid symbols: Forward</text>
<text id="t41" x="70.8" y="41.7" font-size="14.4" font-weight="bold" text-anchor="start" textLength="145.5" lengthAdjust="spacingAndGlyphs">Open symbols: Reverse</text>
<text id="t42" x="156.8" y="65.1" font-size="13" font-weight="bold" textLength="71.3" lengthAdjust="spacingAndGlyphs"><tspan font-style="italic">V</tspan><tspan dy="4.4">DS</tspan><tspan dy="-4.4"> = -0.5 V</tspan></text>
<text id="t43" x="73.5" y="143.2" font-size="13" font-weight="bold" textLength="75.8" lengthAdjust="spacingAndGlyphs"><tspan font-style="italic">V</tspan><tspan dy="4.4">DS</tspan><tspan dy="-4.4"> = -0.05 V</tspan></text>
<text id="t44" x="79.4" y="211.9" font-size="12.5" font-weight="bold" textLength="62.2" lengthAdjust="spacingAndGlyphs">5 nm ZrO<tspan dy="4">x</tspan></text>
<text id="t45" x="78.6" y="234.8" font-size="13" font-weight="bold"><tspan font-style="italic">L</tspan><tspan dy="4">G</tspan><tspan dy="-4"> = 4 &#956;m</tspan></text>
<line x1="339.1" y1="21.7" x2="368.9" y2="21.7" stroke="#ff0000" stroke-width="1.5"/>
<rect x="350.7" y="18.8" width="6.6" height="6.6" fill="#fff" stroke="#ff0000" stroke-width="1.3"/>
<text id="t46" x="372.2" y="26.8" font-size="14" font-weight="bold">ZrO<tspan dy="3">x</tspan><tspan dy="-3"> NCFET</tspan></text>
<line x1="339.1" y1="43.4" x2="368.9" y2="43.4" stroke="#000" stroke-width="1.5"/>
<path d="M349.9 41.17L358.5 41.17L354.2 48.77Z" fill="#fff" stroke="#000" stroke-width="1.2" stroke-linejoin="miter"/>
<text id="t47" x="372.2" y="48.5" font-size="14" font-weight="bold" textLength="110.5" lengthAdjust="spacingAndGlyphs">Control MOSFET</text>
<line x1="334.6" y1="84.9" x2="370.7" y2="84.9" stroke="#000" stroke-width="1"/>
<line x1="370.7" y1="84.9" x2="370.7" y2="70" stroke="#000" stroke-width="1"/>
<path d="M367.9 72.5L370.7 67.6L373.5 72.5Z" fill="#000"/>
<text id="t48" x="334.6" y="82.4" font-size="15" font-weight="normal" stroke="#000" stroke-width="0.35" textLength="31" lengthAdjust="spacingAndGlyphs">12%</text>
<line x1="409.5" y1="71.6" x2="396.7" y2="76.5" stroke="#777" stroke-width="1.3"/>
<line x1="417.3" y1="86.3" x2="404.6" y2="98.1" stroke="#777" stroke-width="1.3"/>
<text id="t49" x="409.6" y="70.6" font-size="12.2" font-weight="bold" textLength="91.9" lengthAdjust="spacingAndGlyphs">|<tspan font-style="italic">V</tspan><tspan dy="4" font-size="10.6">GS</tspan><tspan dy="-1">-</tspan><tspan dy="-3" font-style="italic">V</tspan><tspan dy="4" font-size="10.6">TH</tspan><tspan dy="-4">| = 1 V</tspan></text>
<text id="t50" x="416.9" y="89.7" font-size="12.6" font-weight="bold">|Step| = 0.2 V</text>
<text id="t51" x="619.6" y="27" font-size="14.3" font-weight="bold" text-anchor="start">Solid symbols: Forward</text>
<text id="t52" x="619.6" y="44.9" font-size="14.3" font-weight="bold" text-anchor="start">Open symbols: Reverse</text>
<line x1="620.2" y1="57.8" x2="653.6" y2="57.8" stroke="#ff0000" stroke-width="1.5"/>
<rect x="633.7" y="54.7" width="6.2" height="6.2" fill="#fff" stroke="#ff0000" stroke-width="1.2"/>
<text id="t53" x="657" y="62.4" font-size="13" font-weight="bold" textLength="76.6" lengthAdjust="spacingAndGlyphs"><tspan font-style="italic">V</tspan><tspan dy="4.4">DS</tspan><tspan dy="-4.4"> = -0.05 V</tspan></text>
<line x1="620.2" y1="79.8" x2="653.6" y2="79.8" stroke="#0000ff" stroke-width="1.5"/>
<circle cx="636.8" cy="79.8" r="3.5" fill="#fff" stroke="#0000ff" stroke-width="1.3"/>
<text id="t54" x="657" y="83.6" font-size="13" font-weight="bold" textLength="69.4" lengthAdjust="spacingAndGlyphs"><tspan font-style="italic">V</tspan><tspan dy="4.4">DS</tspan><tspan dy="-4.4"> = -0.5 V</tspan></text>
<text id="t55" x="621.6" y="186.2" font-size="12.5" font-weight="bold" textLength="61.2" lengthAdjust="spacingAndGlyphs">5 nm ZrO<tspan dy="4">x</tspan></text>
<text id="t56" x="621.0" y="213.1" font-size="13" font-weight="bold"><tspan font-style="italic">L</tspan><tspan dy="4">G</tspan><tspan dy="-4"> = 4 &#956;m</tspan></text>
<text id="t57" x="621.8" y="240.7" font-size="13" font-weight="bold">A = 6700 &#956;m<tspan dy="-6" font-size="12">2</tspan></text>
</svg>
</body></html>
